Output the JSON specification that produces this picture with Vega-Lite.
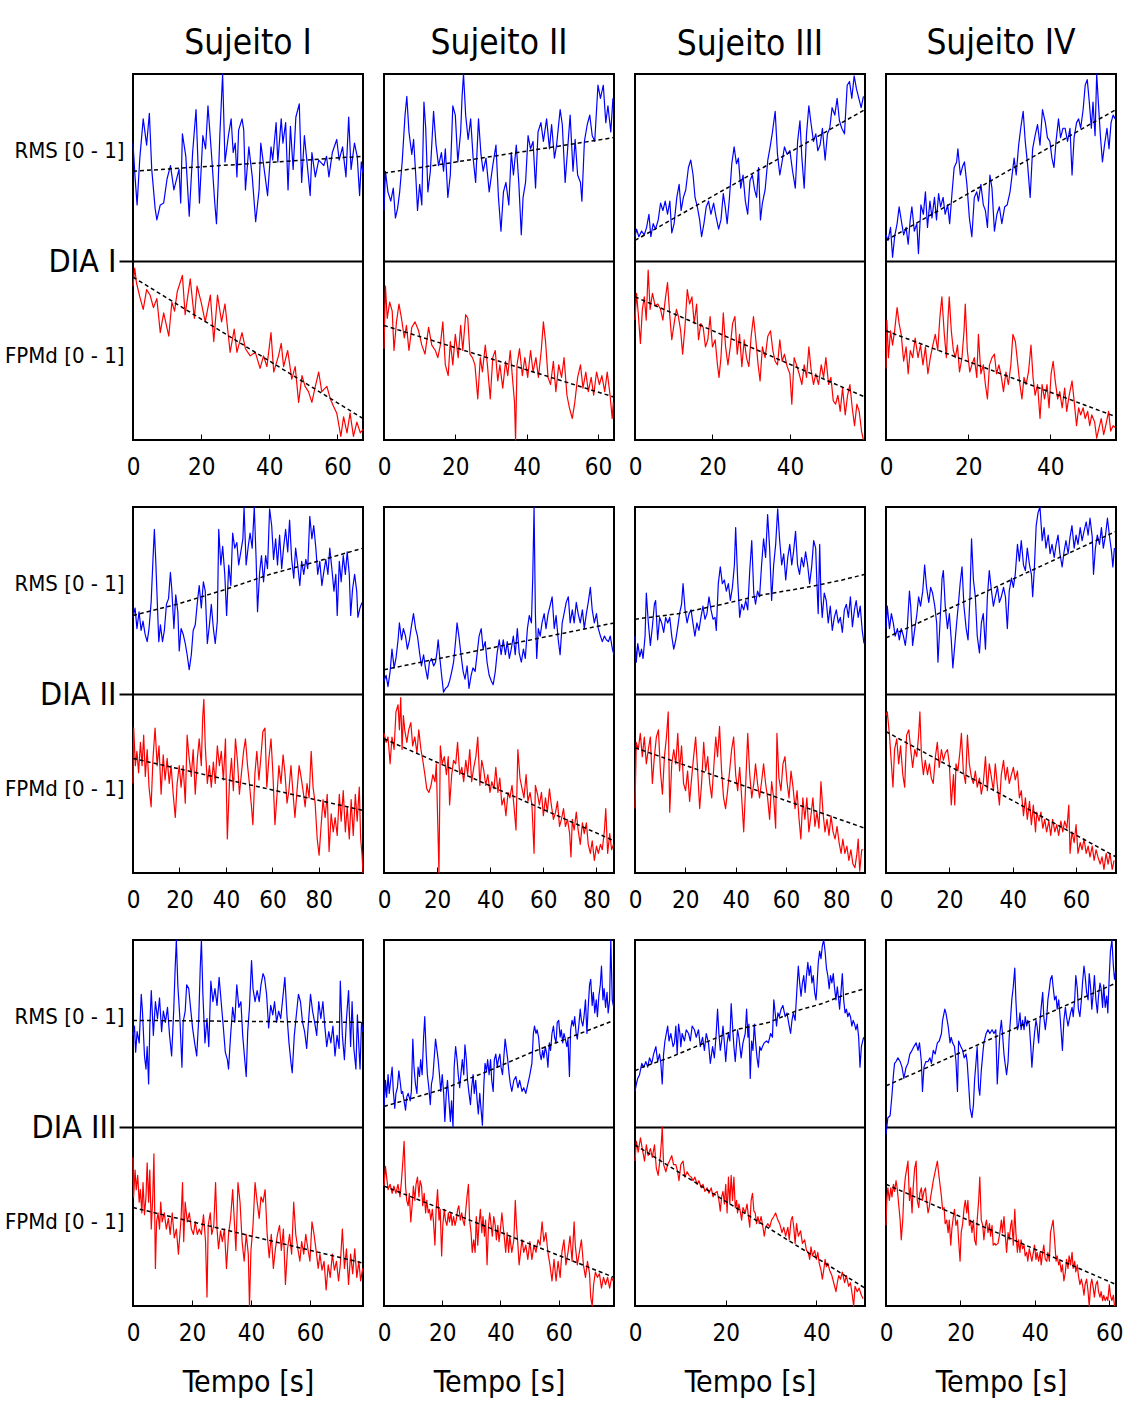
{
  "$schema": "https://vega.github.io/schema/vega-lite/v6.json",
  "background": "#ffffff",
  "padding": {"left": 3, "top": 25, "right": 2, "bottom": 6},
  "config": {
    "font": "Liberation Sans Narrow, DejaVu Sans Condensed, Liberation Sans, sans-serif",
    "view": {"stroke": "#000000", "strokeWidth": 2},
    "axis": {"labelColor": "#000000", "titleColor": "#000000", "titleFontWeight": "normal", "labelFont": "Liberation Sans Narrow, DejaVu Sans Condensed, Liberation Sans, sans-serif", "titleFont": "Liberation Sans Narrow, DejaVu Sans Condensed, Liberation Sans, sans-serif"},
    "axisX": {"grid": false, "domain": false, "tickColor": "#000000", "tickSize": -6, "tickWidth": 1, "labelFontSize": 24, "labelPadding": 21, "labelFlush": false, "labelOverlap": false, "titleFontSize": 30, "titlePadding": 22},
    "axisY": {"domain": false, "title": null},
    "title": {"fontSize": 35, "fontWeight": "normal", "color": "#000000", "anchor": "middle", "offset": 12, "font": "Liberation Sans Narrow, DejaVu Sans Condensed, Liberation Sans, sans-serif"},
    "line": {"strokeWidth": 1.2, "strokeJoin": "round"}
  },
  "datasets": {
    "r11": [{"t":0,"v":0.63},{"t":0.6,"v":0.45},{"t":1.2,"v":0.30},{"t":2,"v":0.55},{"t":3,"v":0.76},{"t":4,"v":0.62},{"t":4.8,"v":0.79},{"t":5.5,"v":0.49},{"t":6.5,"v":0.28},{"t":7,"v":0.22},{"t":8,"v":0.30},{"t":9,"v":0.31},{"t":10,"v":0.44},{"t":11,"v":0.51},{"t":12,"v":0.38},{"t":13.5,"v":0.49},{"t":14,"v":0.31},{"t":14.5,"v":0.68},{"t":15.5,"v":0.56},{"t":16.5,"v":0.24},{"t":17.5,"v":0.58},{"t":18.5,"v":0.81},{"t":19.5,"v":0.31},{"t":20.5,"v":0.67},{"t":21.3,"v":0.60},{"t":22,"v":0.83},{"t":23,"v":0.58},{"t":24,"v":0.31},{"t":24.5,"v":0.20},{"t":25,"v":0.42},{"t":25.5,"v":0.68},{"t":26,"v":0.88},{"t":26.3,"v":1.0},{"t":27,"v":0.53},{"t":28,"v":0.67},{"t":28.8,"v":0.76},{"t":29.4,"v":0.58},{"t":30,"v":0.63},{"t":30.5,"v":0.45},{"t":31,"v":0.70},{"t":32,"v":0.76},{"t":32.5,"v":0.70},{"t":33,"v":0.38},{"t":34,"v":0.61},{"t":35,"v":0.45},{"t":36,"v":0.21},{"t":37,"v":0.38},{"t":37.5,"v":0.63},{"t":38.5,"v":0.49},{"t":39.5,"v":0.35},{"t":40.5,"v":0.61},{"t":41,"v":0.54},{"t":42,"v":0.74},{"t":42.5,"v":0.53},{"t":43.5,"v":0.76},{"t":44,"v":0.63},{"t":44.8,"v":0.74},{"t":45.5,"v":0.38},{"t":46.2,"v":0.72},{"t":47,"v":0.49},{"t":47.8,"v":0.77},{"t":48.8,"v":0.84},{"t":49.5,"v":0.42},{"t":50.3,"v":0.67},{"t":51,"v":0.54},{"t":52,"v":0.35},{"t":52.5,"v":0.58},{"t":53.5,"v":0.45},{"t":54.5,"v":0.54},{"t":55,"v":0.53},{"t":56,"v":0.51},{"t":56.8,"v":0.56},{"t":57.5,"v":0.45},{"t":58.5,"v":0.58},{"t":59.8,"v":0.65},{"t":60.5,"v":0.54},{"t":61.5,"v":0.61},{"t":62.5,"v":0.45},{"t":63.3,"v":0.77},{"t":64,"v":0.49},{"t":65,"v":0.63},{"t":65.8,"v":0.56},{"t":66.5,"v":0.35},{"t":67,"v":0.53},{"t":67.5,"v":0.47}],
    "tr11": [{"t":0,"v":0.48},{"t":67.5,"v":0.56}],
    "f11": [{"t":0,"v":0.86},{"t":0.5,"v":0.96},{"t":1,"v":0.88},{"t":2,"v":0.80},{"t":3,"v":0.73},{"t":4,"v":0.84},{"t":5,"v":0.81},{"t":6,"v":0.74},{"t":7,"v":0.79},{"t":8,"v":0.60},{"t":9,"v":0.71},{"t":10.5,"v":0.58},{"t":11.4,"v":0.77},{"t":12.2,"v":0.72},{"t":13,"v":0.83},{"t":14.5,"v":0.92},{"t":15.3,"v":0.70},{"t":16.8,"v":0.90},{"t":18,"v":0.68},{"t":18.8,"v":0.86},{"t":20,"v":0.77},{"t":21.2,"v":0.66},{"t":22.7,"v":0.81},{"t":23.7,"v":0.55},{"t":24.8,"v":0.81},{"t":26,"v":0.66},{"t":27,"v":0.76},{"t":28.5,"v":0.49},{"t":29.7,"v":0.62},{"t":30.5,"v":0.49},{"t":32,"v":0.60},{"t":33,"v":0.51},{"t":34.4,"v":0.47},{"t":35.9,"v":0.49},{"t":37.3,"v":0.40},{"t":38.3,"v":0.47},{"t":39.3,"v":0.41},{"t":40.5,"v":0.60},{"t":41.3,"v":0.38},{"t":42.7,"v":0.47},{"t":43.5,"v":0.54},{"t":44.2,"v":0.41},{"t":45.4,"v":0.50},{"t":46.6,"v":0.34},{"t":47.6,"v":0.41},{"t":48.6,"v":0.21},{"t":49.6,"v":0.36},{"t":50.5,"v":0.30},{"t":51.5,"v":0.27},{"t":52.5,"v":0.21},{"t":53.5,"v":0.30},{"t":54.5,"v":0.38},{"t":55.4,"v":0.27},{"t":56.9,"v":0.30},{"t":57.9,"v":0.23},{"t":58.8,"v":0.19},{"t":59.8,"v":0.15},{"t":61,"v":0.02},{"t":61.8,"v":0.13},{"t":62.8,"v":0.04},{"t":63.7,"v":0.15},{"t":64.7,"v":0.02},{"t":65.7,"v":0.10},{"t":66.7,"v":0.04},{"t":67.5,"v":0.06}],
    "tf11": [{"t":0,"v":0.91},{"t":67.5,"v":0.12}],
    "r12": [{"t":0,"v":0.27},{"t":0.4,"v":0.48},{"t":1.1,"v":0.37},{"t":1.9,"v":0.32},{"t":2.6,"v":0.39},{"t":3.2,"v":0.23},{"t":3.8,"v":0.28},{"t":4.4,"v":0.37},{"t":5.1,"v":0.53},{"t":5.9,"v":0.78},{"t":6.4,"v":0.88},{"t":7,"v":0.69},{"t":7.8,"v":0.57},{"t":8.3,"v":0.65},{"t":8.9,"v":0.46},{"t":9.4,"v":0.27},{"t":10,"v":0.41},{"t":10.6,"v":0.30},{"t":11.2,"v":0.85},{"t":11.7,"v":0.71},{"t":12.3,"v":0.37},{"t":13,"v":0.48},{"t":13.9,"v":0.80},{"t":14.6,"v":0.62},{"t":15.3,"v":0.51},{"t":16.1,"v":0.58},{"t":16.7,"v":0.48},{"t":17.2,"v":0.60},{"t":17.9,"v":0.34},{"t":18.6,"v":0.46},{"t":19.3,"v":0.83},{"t":20,"v":0.78},{"t":20.7,"v":0.53},{"t":21.5,"v":0.69},{"t":21.9,"v":0.88},{"t":22.3,"v":1.0},{"t":22.9,"v":0.78},{"t":23.6,"v":0.65},{"t":24.3,"v":0.76},{"t":25,"v":0.55},{"t":25.7,"v":0.42},{"t":26.5,"v":0.76},{"t":27.2,"v":0.57},{"t":27.8,"v":0.48},{"t":28.6,"v":0.55},{"t":29.5,"v":0.37},{"t":30.5,"v":0.51},{"t":31.4,"v":0.62},{"t":32.1,"v":0.34},{"t":32.8,"v":0.16},{"t":33.5,"v":0.37},{"t":34.2,"v":0.42},{"t":35,"v":0.30},{"t":35.7,"v":0.58},{"t":36.3,"v":0.46},{"t":37.1,"v":0.62},{"t":37.8,"v":0.42},{"t":38.5,"v":0.14},{"t":39,"v":0.34},{"t":39.7,"v":0.42},{"t":40.4,"v":0.67},{"t":41.1,"v":0.60},{"t":41.8,"v":0.64},{"t":42.5,"v":0.39},{"t":43.2,"v":0.69},{"t":44,"v":0.74},{"t":44.7,"v":0.64},{"t":45.6,"v":0.76},{"t":46.4,"v":0.60},{"t":47,"v":0.73},{"t":47.8,"v":0.55},{"t":48.4,"v":0.62},{"t":49.4,"v":0.81},{"t":50,"v":0.73},{"t":50.8,"v":0.42},{"t":51.5,"v":0.60},{"t":52.2,"v":0.78},{"t":53,"v":0.48},{"t":53.6,"v":0.65},{"t":54.3,"v":0.46},{"t":55.1,"v":0.42},{"t":55.5,"v":0.32},{"t":56.2,"v":0.64},{"t":57,"v":0.73},{"t":57.7,"v":0.78},{"t":58.4,"v":0.67},{"t":59.1,"v":0.64},{"t":60,"v":0.94},{"t":60.7,"v":0.87},{"t":61.5,"v":0.94},{"t":62.2,"v":0.74},{"t":62.8,"v":0.83},{"t":63.6,"v":0.69},{"t":64.2,"v":0.87}],
    "tr12": [{"t":0,"v":0.47},{"t":64.5,"v":0.66}],
    "f12": [{"t":0,"v":0.51},{"t":0.4,"v":0.86},{"t":0.9,"v":0.68},{"t":1.6,"v":0.77},{"t":2.3,"v":0.72},{"t":2.8,"v":0.50},{"t":3.5,"v":0.66},{"t":4.2,"v":0.76},{"t":4.9,"v":0.68},{"t":5.7,"v":0.57},{"t":6.3,"v":0.64},{"t":7,"v":0.50},{"t":7.8,"v":0.63},{"t":8.7,"v":0.66},{"t":9.7,"v":0.61},{"t":10.6,"v":0.53},{"t":11.5,"v":0.48},{"t":12.5,"v":0.63},{"t":13.4,"v":0.53},{"t":14.4,"v":0.50},{"t":15.1,"v":0.46},{"t":15.8,"v":0.53},{"t":16.5,"v":0.66},{"t":17.2,"v":0.42},{"t":18,"v":0.36},{"t":18.6,"v":0.55},{"t":19.3,"v":0.42},{"t":20,"v":0.59},{"t":20.8,"v":0.46},{"t":21.5,"v":0.64},{"t":22.1,"v":0.50},{"t":22.9,"v":0.70},{"t":23.5,"v":0.68},{"t":24.1,"v":0.48},{"t":24.8,"v":0.46},{"t":25.5,"v":0.42},{"t":26.3,"v":0.23},{"t":27,"v":0.46},{"t":27.6,"v":0.38},{"t":28.4,"v":0.53},{"t":29,"v":0.42},{"t":29.8,"v":0.23},{"t":30.5,"v":0.46},{"t":31.2,"v":0.50},{"t":31.9,"v":0.33},{"t":32.5,"v":0.42},{"t":33.3,"v":0.29},{"t":34.1,"v":0.44},{"t":34.7,"v":0.36},{"t":35.4,"v":0.50},{"t":36.1,"v":0.33},{"t":36.6,"v":0.21},{"t":36.9,"v":0.0},{"t":37.3,"v":0.42},{"t":38,"v":0.51},{"t":38.8,"v":0.36},{"t":39.5,"v":0.46},{"t":40.3,"v":0.35},{"t":41.1,"v":0.50},{"t":41.8,"v":0.38},{"t":42.6,"v":0.46},{"t":43.3,"v":0.35},{"t":44.1,"v":0.50},{"t":44.7,"v":0.66},{"t":45.3,"v":0.55},{"t":46,"v":0.35},{"t":46.7,"v":0.31},{"t":47.5,"v":0.44},{"t":48.2,"v":0.27},{"t":49,"v":0.42},{"t":49.8,"v":0.35},{"t":50.5,"v":0.46},{"t":51.3,"v":0.25},{"t":52,"v":0.18},{"t":52.8,"v":0.12},{"t":53.5,"v":0.21},{"t":54.3,"v":0.35},{"t":55.1,"v":0.42},{"t":55.8,"v":0.29},{"t":56.6,"v":0.38},{"t":57.3,"v":0.27},{"t":58.1,"v":0.35},{"t":58.8,"v":0.25},{"t":59.6,"v":0.38},{"t":60.4,"v":0.31},{"t":61.1,"v":0.36},{"t":61.9,"v":0.27},{"t":62.6,"v":0.38},{"t":63.4,"v":0.25},{"t":64,"v":0.12},{"t":64.3,"v":0.21}],
    "tf12": [{"t":0,"v":0.64},{"t":64.5,"v":0.24}],
    "r13": [{"t":0,"v":0.13},{"t":0.4,"v":0.17},{"t":1,"v":0.13},{"t":1.7,"v":0.16},{"t":2.4,"v":0.14},{"t":3,"v":0.18},{"t":3.6,"v":0.25},{"t":4.1,"v":0.13},{"t":4.7,"v":0.20},{"t":5.3,"v":0.17},{"t":6,"v":0.22},{"t":6.6,"v":0.31},{"t":7.2,"v":0.27},{"t":7.8,"v":0.32},{"t":8.4,"v":0.25},{"t":9,"v":0.32},{"t":9.5,"v":0.15},{"t":10.1,"v":0.20},{"t":10.8,"v":0.34},{"t":11.4,"v":0.41},{"t":11.9,"v":0.27},{"t":12.5,"v":0.34},{"t":13.1,"v":0.38},{"t":13.8,"v":0.50},{"t":14.4,"v":0.54},{"t":15,"v":0.46},{"t":15.5,"v":0.34},{"t":16.1,"v":0.29},{"t":16.7,"v":0.22},{"t":17.2,"v":0.13},{"t":17.8,"v":0.20},{"t":18.4,"v":0.29},{"t":19,"v":0.32},{"t":19.6,"v":0.25},{"t":20.3,"v":0.31},{"t":20.9,"v":0.24},{"t":21.6,"v":0.17},{"t":22.2,"v":0.22},{"t":22.8,"v":0.36},{"t":23.3,"v":0.29},{"t":23.8,"v":0.20},{"t":24.4,"v":0.34},{"t":25,"v":0.52},{"t":25.6,"v":0.61},{"t":26.2,"v":0.52},{"t":26.7,"v":0.55},{"t":27.3,"v":0.39},{"t":27.9,"v":0.46},{"t":28.5,"v":0.32},{"t":29.1,"v":0.25},{"t":29.7,"v":0.43},{"t":30.3,"v":0.46},{"t":30.9,"v":0.38},{"t":31.4,"v":0.34},{"t":31.9,"v":0.50},{"t":32.4,"v":0.22},{"t":32.9,"v":0.31},{"t":33.6,"v":0.38},{"t":34.3,"v":0.54},{"t":34.9,"v":0.61},{"t":35.5,"v":0.69},{"t":36.2,"v":0.80},{"t":36.8,"v":0.57},{"t":37.4,"v":0.46},{"t":37.9,"v":0.52},{"t":38.6,"v":0.61},{"t":39.3,"v":0.57},{"t":40,"v":0.59},{"t":40.7,"v":0.48},{"t":41.4,"v":0.39},{"t":42,"v":0.64},{"t":42.6,"v":0.75},{"t":43.1,"v":0.55},{"t":43.7,"v":0.39},{"t":44.3,"v":0.68},{"t":44.9,"v":0.83},{"t":45.5,"v":0.73},{"t":46.1,"v":0.64},{"t":46.7,"v":0.68},{"t":47.2,"v":0.59},{"t":47.8,"v":0.62},{"t":48.4,"v":0.71},{"t":49.1,"v":0.54},{"t":49.7,"v":0.68},{"t":50.3,"v":0.71},{"t":50.9,"v":0.82},{"t":51.6,"v":0.78},{"t":52.2,"v":0.87},{"t":52.8,"v":0.75},{"t":53.4,"v":0.71},{"t":54.1,"v":0.68},{"t":54.8,"v":0.94},{"t":55.4,"v":0.96},{"t":56,"v":0.87},{"t":56.6,"v":0.99},{"t":57.2,"v":0.92},{"t":57.8,"v":0.87},{"t":58.4,"v":0.82},{"t":59,"v":0.88}],
    "tr13": [{"t":0,"v":0.11},{"t":59.4,"v":0.81}],
    "f13": [{"t":0,"v":0.67},{"t":0.4,"v":0.82},{"t":0.9,"v":0.69},{"t":1.4,"v":0.54},{"t":1.9,"v":0.73},{"t":2.4,"v":0.80},{"t":2.9,"v":0.67},{"t":3.4,"v":0.95},{"t":3.9,"v":0.73},{"t":4.5,"v":0.82},{"t":5.2,"v":0.75},{"t":5.9,"v":0.76},{"t":6.6,"v":0.73},{"t":7.2,"v":0.67},{"t":7.9,"v":0.80},{"t":8.4,"v":0.88},{"t":9,"v":0.69},{"t":9.5,"v":0.56},{"t":10.1,"v":0.65},{"t":10.7,"v":0.73},{"t":11.2,"v":0.69},{"t":11.8,"v":0.61},{"t":12.3,"v":0.48},{"t":12.9,"v":0.63},{"t":13.5,"v":0.84},{"t":14.1,"v":0.76},{"t":14.7,"v":0.80},{"t":15.3,"v":0.65},{"t":15.9,"v":0.76},{"t":16.4,"v":0.56},{"t":17,"v":0.65},{"t":17.6,"v":0.63},{"t":18.2,"v":0.52},{"t":18.8,"v":0.56},{"t":19.4,"v":0.69},{"t":20,"v":0.52},{"t":20.7,"v":0.56},{"t":21.3,"v":0.42},{"t":21.7,"v":0.35},{"t":22.2,"v":0.46},{"t":22.8,"v":0.71},{"t":23.4,"v":0.52},{"t":24,"v":0.42},{"t":24.6,"v":0.52},{"t":25.2,"v":0.65},{"t":25.8,"v":0.69},{"t":26.4,"v":0.48},{"t":27,"v":0.59},{"t":27.6,"v":0.41},{"t":28.2,"v":0.56},{"t":28.8,"v":0.46},{"t":29.4,"v":0.41},{"t":30,"v":0.58},{"t":30.6,"v":0.69},{"t":31.2,"v":0.56},{"t":31.8,"v":0.42},{"t":32.3,"v":0.33},{"t":32.9,"v":0.52},{"t":33.6,"v":0.46},{"t":34.3,"v":0.58},{"t":35,"v":0.61},{"t":35.6,"v":0.50},{"t":36.2,"v":0.44},{"t":36.8,"v":0.42},{"t":37.4,"v":0.56},{"t":38,"v":0.44},{"t":38.6,"v":0.48},{"t":39.3,"v":0.41},{"t":40,"v":0.37},{"t":40.5,"v":0.20},{"t":41.1,"v":0.46},{"t":41.7,"v":0.42},{"t":42.4,"v":0.37},{"t":43.1,"v":0.31},{"t":43.7,"v":0.42},{"t":44.3,"v":0.35},{"t":44.9,"v":0.52},{"t":45.5,"v":0.39},{"t":46.1,"v":0.31},{"t":46.7,"v":0.37},{"t":47.4,"v":0.31},{"t":48.1,"v":0.42},{"t":48.7,"v":0.35},{"t":49.3,"v":0.46},{"t":50,"v":0.31},{"t":50.6,"v":0.35},{"t":51.2,"v":0.22},{"t":51.8,"v":0.20},{"t":52.4,"v":0.25},{"t":53,"v":0.16},{"t":53.6,"v":0.29},{"t":54.3,"v":0.14},{"t":54.9,"v":0.25},{"t":55.5,"v":0.31},{"t":56.1,"v":0.18},{"t":56.7,"v":0.08},{"t":57.3,"v":0.20},{"t":57.9,"v":0.16},{"t":58.5,"v":0.05},{"t":59,"v":0.0}],
    "tf13": [{"t":0,"v":0.80},{"t":59.4,"v":0.24}],
    "r14": [{"t":0,"v":0.14},{"t":0.5,"v":0.11},{"t":1.1,"v":0.18},{"t":1.6,"v":0.02},{"t":2.1,"v":0.13},{"t":2.7,"v":0.20},{"t":3.2,"v":0.29},{"t":3.7,"v":0.22},{"t":4.3,"v":0.14},{"t":4.9,"v":0.18},{"t":5.4,"v":0.09},{"t":5.9,"v":0.22},{"t":6.3,"v":0.29},{"t":6.9,"v":0.16},{"t":7.5,"v":0.20},{"t":7.9,"v":0.04},{"t":8.5,"v":0.30},{"t":9.1,"v":0.25},{"t":9.6,"v":0.37},{"t":10.1,"v":0.18},{"t":10.7,"v":0.32},{"t":11.2,"v":0.23},{"t":11.8,"v":0.34},{"t":12.3,"v":0.22},{"t":12.8,"v":0.36},{"t":13.3,"v":0.29},{"t":13.9,"v":0.34},{"t":14.4,"v":0.25},{"t":15,"v":0.30},{"t":15.5,"v":0.20},{"t":16.1,"v":0.37},{"t":16.6,"v":0.50},{"t":17.2,"v":0.53},{"t":17.5,"v":0.60},{"t":18.1,"v":0.46},{"t":18.7,"v":0.51},{"t":19.1,"v":0.53},{"t":19.7,"v":0.41},{"t":20.3,"v":0.23},{"t":20.9,"v":0.13},{"t":21.5,"v":0.34},{"t":22.1,"v":0.37},{"t":22.5,"v":0.32},{"t":23.1,"v":0.41},{"t":23.7,"v":0.30},{"t":24.2,"v":0.27},{"t":24.7,"v":0.18},{"t":25.3,"v":0.46},{"t":25.8,"v":0.39},{"t":26.4,"v":0.16},{"t":27,"v":0.25},{"t":27.6,"v":0.29},{"t":28.2,"v":0.20},{"t":28.9,"v":0.29},{"t":29.5,"v":0.30},{"t":30.2,"v":0.37},{"t":30.7,"v":0.46},{"t":31.2,"v":0.55},{"t":31.7,"v":0.46},{"t":32.3,"v":0.62},{"t":32.8,"v":0.71},{"t":33.4,"v":0.80},{"t":33.9,"v":0.64},{"t":34.5,"v":0.51},{"t":35.1,"v":0.34},{"t":35.7,"v":0.60},{"t":36.3,"v":0.67},{"t":36.9,"v":0.73},{"t":37.5,"v":0.62},{"t":38.1,"v":0.81},{"t":38.8,"v":0.74},{"t":39.3,"v":0.66},{"t":39.9,"v":0.64},{"t":40.4,"v":0.55},{"t":40.9,"v":0.50},{"t":41.4,"v":0.64},{"t":42,"v":0.76},{"t":42.5,"v":0.66},{"t":43.1,"v":0.71},{"t":43.6,"v":0.71},{"t":44.2,"v":0.64},{"t":44.8,"v":0.71},{"t":45.3,"v":0.46},{"t":45.8,"v":0.66},{"t":46.4,"v":0.74},{"t":46.9,"v":0.76},{"t":47.4,"v":0.71},{"t":48,"v":0.81},{"t":48.5,"v":0.94},{"t":49,"v":0.97},{"t":49.5,"v":0.85},{"t":50,"v":0.71},{"t":50.4,"v":0.85},{"t":50.9,"v":0.67},{"t":51.3,"v":1.0},{"t":51.7,"v":0.85},{"t":52.2,"v":0.67},{"t":52.7,"v":0.53},{"t":53.2,"v":0.62},{"t":53.8,"v":0.71},{"t":54.3,"v":0.60},{"t":54.8,"v":0.74},{"t":55.3,"v":0.78},{"t":55.8,"v":0.76}],
    "tr14": [{"t":0,"v":0.11},{"t":56,"v":0.81}],
    "f14": [{"t":0,"v":0.40},{"t":0.2,"v":0.67},{"t":0.6,"v":0.46},{"t":1.1,"v":0.61},{"t":1.6,"v":0.53},{"t":2.1,"v":0.61},{"t":2.7,"v":0.74},{"t":3.2,"v":0.65},{"t":3.7,"v":0.59},{"t":4.3,"v":0.44},{"t":4.9,"v":0.52},{"t":5.4,"v":0.37},{"t":5.9,"v":0.50},{"t":6.5,"v":0.46},{"t":7.1,"v":0.57},{"t":7.8,"v":0.46},{"t":8.4,"v":0.53},{"t":9,"v":0.42},{"t":9.6,"v":0.52},{"t":10.2,"v":0.37},{"t":10.8,"v":0.46},{"t":11.4,"v":0.53},{"t":12,"v":0.59},{"t":12.6,"v":0.50},{"t":13.1,"v":0.68},{"t":13.6,"v":0.80},{"t":14.2,"v":0.59},{"t":14.7,"v":0.46},{"t":15.1,"v":0.68},{"t":15.4,"v":0.80},{"t":15.9,"v":0.61},{"t":16.4,"v":0.50},{"t":16.9,"v":0.46},{"t":17.4,"v":0.53},{"t":17.9,"v":0.38},{"t":18.5,"v":0.46},{"t":19,"v":0.61},{"t":19.3,"v":0.76},{"t":19.8,"v":0.50},{"t":20.4,"v":0.38},{"t":20.9,"v":0.42},{"t":21.5,"v":0.46},{"t":22.1,"v":0.35},{"t":22.5,"v":0.59},{"t":23.1,"v":0.37},{"t":23.7,"v":0.42},{"t":24.2,"v":0.31},{"t":24.7,"v":0.23},{"t":25.2,"v":0.42},{"t":25.8,"v":0.46},{"t":26.4,"v":0.48},{"t":26.9,"v":0.37},{"t":27.5,"v":0.42},{"t":28.1,"v":0.35},{"t":28.6,"v":0.27},{"t":29.2,"v":0.38},{"t":29.8,"v":0.31},{"t":30.4,"v":0.42},{"t":30.9,"v":0.59},{"t":31.5,"v":0.55},{"t":32.1,"v":0.42},{"t":32.6,"v":0.31},{"t":33.1,"v":0.23},{"t":33.6,"v":0.35},{"t":34.1,"v":0.31},{"t":34.7,"v":0.38},{"t":35.3,"v":0.53},{"t":35.8,"v":0.35},{"t":36.3,"v":0.25},{"t":36.9,"v":0.31},{"t":37.5,"v":0.12},{"t":38,"v":0.31},{"t":38.6,"v":0.23},{"t":39.2,"v":0.31},{"t":39.7,"v":0.18},{"t":40.2,"v":0.37},{"t":40.7,"v":0.44},{"t":41.2,"v":0.33},{"t":41.8,"v":0.23},{"t":42.3,"v":0.27},{"t":42.9,"v":0.18},{"t":43.5,"v":0.29},{"t":44,"v":0.16},{"t":44.6,"v":0.25},{"t":45.3,"v":0.33},{"t":45.8,"v":0.22},{"t":46.4,"v":0.08},{"t":46.9,"v":0.18},{"t":47.4,"v":0.14},{"t":48,"v":0.18},{"t":48.5,"v":0.12},{"t":49.1,"v":0.16},{"t":49.6,"v":0.08},{"t":50.1,"v":0.14},{"t":50.8,"v":0.10},{"t":51.3,"v":0.01},{"t":51.9,"v":0.07},{"t":52.4,"v":0.12},{"t":53,"v":0.03},{"t":53.5,"v":0.08},{"t":54.2,"v":0.16},{"t":54.7,"v":0.05},{"t":55.3,"v":0.08},{"t":55.8,"v":0.07}],
    "tf14": [{"t":0,"v":0.61},{"t":56,"v":0.13}],
    "r21": [{"t":0,"v":0.41},{"t":0.9,"v":0.46},{"t":1.7,"v":0.35},{"t":2.6,"v":0.44},{"t":3.5,"v":0.34},{"t":4.3,"v":0.39},{"t":5.2,"v":0.32},{"t":6.1,"v":0.28},{"t":6.9,"v":0.35},{"t":7.8,"v":0.49},{"t":8.6,"v":0.72},{"t":9.2,"v":0.88},{"t":9.8,"v":0.71},{"t":10.4,"v":0.51},{"t":11.1,"v":0.28},{"t":11.8,"v":0.37},{"t":12.7,"v":0.28},{"t":13.5,"v":0.34},{"t":14.4,"v":0.48},{"t":15.3,"v":0.51},{"t":16.1,"v":0.65},{"t":16.7,"v":0.56},{"t":17.6,"v":0.35},{"t":18.4,"v":0.53},{"t":19.3,"v":0.44},{"t":19.9,"v":0.23},{"t":20.7,"v":0.35},{"t":21.6,"v":0.32},{"t":22.5,"v":0.27},{"t":23.3,"v":0.21},{"t":24.2,"v":0.13},{"t":25.1,"v":0.21},{"t":25.9,"v":0.34},{"t":26.8,"v":0.37},{"t":27.7,"v":0.49},{"t":28.5,"v":0.58},{"t":29.4,"v":0.46},{"t":30.3,"v":0.60},{"t":31.1,"v":0.55},{"t":32,"v":0.27},{"t":32.9,"v":0.37},{"t":33.7,"v":0.48},{"t":34.6,"v":0.35},{"t":35.4,"v":0.27},{"t":36.3,"v":0.39},{"t":36.9,"v":0.88},{"t":37.8,"v":0.69},{"t":38.6,"v":0.79},{"t":39.5,"v":0.64},{"t":40.3,"v":0.42},{"t":41.2,"v":0.69},{"t":42.1,"v":0.58},{"t":42.9,"v":0.86},{"t":43.8,"v":0.78},{"t":44.7,"v":0.81},{"t":45.5,"v":0.69},{"t":46.4,"v":0.76},{"t":47.3,"v":0.83},{"t":47.8,"v":1.0},{"t":48.7,"v":0.69},{"t":49.6,"v":0.79},{"t":50.4,"v":0.86},{"t":51.3,"v":0.78},{"t":52.2,"v":1.0},{"t":53,"v":0.72},{"t":53.6,"v":0.44},{"t":54.5,"v":0.65},{"t":55.3,"v":0.74},{"t":56.2,"v":0.60},{"t":57.1,"v":0.74},{"t":57.9,"v":0.67},{"t":58.8,"v":0.99},{"t":59.7,"v":0.90},{"t":60.5,"v":0.72},{"t":61.4,"v":0.83},{"t":62.2,"v":0.69},{"t":63.1,"v":0.85},{"t":64,"v":0.67},{"t":64.8,"v":0.78},{"t":65.7,"v":0.88},{"t":66.6,"v":0.76},{"t":67.4,"v":0.93},{"t":68.3,"v":0.72},{"t":69.2,"v":0.62},{"t":70,"v":0.78},{"t":70.9,"v":0.69},{"t":71.8,"v":0.58},{"t":72.6,"v":0.71},{"t":73.5,"v":0.64},{"t":74.4,"v":0.72},{"t":75.2,"v":0.67},{"t":76.1,"v":0.95},{"t":77,"v":0.83},{"t":77.8,"v":0.90},{"t":78.7,"v":0.78},{"t":79.5,"v":0.64},{"t":80.4,"v":0.71},{"t":81.3,"v":0.58},{"t":82.1,"v":0.65},{"t":83,"v":0.72},{"t":83.9,"v":0.64},{"t":84.7,"v":0.78},{"t":85.6,"v":0.67},{"t":86.5,"v":0.55},{"t":87.3,"v":0.64},{"t":87.9,"v":0.42},{"t":88.8,"v":0.71},{"t":89.6,"v":0.60},{"t":90.5,"v":0.74},{"t":91.4,"v":0.64},{"t":92.2,"v":0.76},{"t":93.1,"v":0.64},{"t":93.7,"v":0.42},{"t":94.5,"v":0.56},{"t":95.4,"v":0.64},{"t":96.3,"v":0.55},{"t":96.8,"v":0.41},{"t":97.7,"v":0.46},{"t":98.6,"v":0.49}],
    "tr21": [{"t":0,"v":0.42},{"t":19,"v":0.48},{"t":40,"v":0.56},{"t":59,"v":0.64},{"t":79.5,"v":0.71},{"t":99,"v":0.78}],
    "f21": [{"t":0,"v":0.50},{"t":0.3,"v":0.81},{"t":1,"v":0.60},{"t":1.7,"v":0.68},{"t":2.4,"v":0.56},{"t":3.2,"v":0.73},{"t":3.9,"v":0.60},{"t":4.6,"v":0.77},{"t":5.3,"v":0.54},{"t":6.1,"v":0.69},{"t":6.9,"v":0.48},{"t":7.8,"v":0.37},{"t":8.6,"v":0.64},{"t":9.5,"v":0.81},{"t":10.4,"v":0.60},{"t":11.2,"v":0.71},{"t":12.1,"v":0.44},{"t":13,"v":0.66},{"t":13.8,"v":0.52},{"t":14.7,"v":0.64},{"t":15.6,"v":0.50},{"t":16.4,"v":0.60},{"t":17.3,"v":0.44},{"t":18.2,"v":0.31},{"t":19,"v":0.50},{"t":19.9,"v":0.60},{"t":20.7,"v":0.48},{"t":21.6,"v":0.60},{"t":22.5,"v":0.39},{"t":23.3,"v":0.77},{"t":24.2,"v":0.64},{"t":25.1,"v":0.54},{"t":25.9,"v":0.69},{"t":26.8,"v":0.44},{"t":27.7,"v":0.64},{"t":28.5,"v":0.75},{"t":29.4,"v":0.60},{"t":30,"v":0.87},{"t":30.5,"v":0.97},{"t":31.1,"v":0.71},{"t":32,"v":0.50},{"t":32.9,"v":0.60},{"t":33.7,"v":0.48},{"t":34.6,"v":0.62},{"t":35.4,"v":0.50},{"t":36.3,"v":0.71},{"t":37.2,"v":0.60},{"t":38,"v":0.68},{"t":38.9,"v":0.52},{"t":39.8,"v":0.75},{"t":40.6,"v":0.19},{"t":41.5,"v":0.50},{"t":42.4,"v":0.64},{"t":43.2,"v":0.46},{"t":44.1,"v":0.75},{"t":45,"v":0.62},{"t":45.8,"v":0.44},{"t":46.7,"v":0.56},{"t":47.6,"v":0.68},{"t":48.4,"v":0.75},{"t":49.3,"v":0.60},{"t":50.1,"v":0.50},{"t":51,"v":0.37},{"t":51.6,"v":0.27},{"t":52.5,"v":0.56},{"t":53.3,"v":0.68},{"t":54.2,"v":0.52},{"t":55,"v":0.64},{"t":55.9,"v":0.79},{"t":56.8,"v":0.81},{"t":57.6,"v":0.48},{"t":58.5,"v":0.64},{"t":59.4,"v":0.75},{"t":60.2,"v":0.56},{"t":61.1,"v":0.27},{"t":62,"v":0.44},{"t":62.8,"v":0.60},{"t":63.7,"v":0.50},{"t":64.6,"v":0.66},{"t":65.4,"v":0.56},{"t":66.3,"v":0.39},{"t":67.1,"v":0.46},{"t":68,"v":0.60},{"t":68.9,"v":0.44},{"t":69.7,"v":0.31},{"t":70.6,"v":0.46},{"t":71.5,"v":0.60},{"t":72.3,"v":0.54},{"t":73.2,"v":0.46},{"t":74.1,"v":0.37},{"t":74.9,"v":0.50},{"t":75.8,"v":0.42},{"t":76.7,"v":0.68},{"t":77.5,"v":0.48},{"t":78.4,"v":0.39},{"t":79.3,"v":0.19},{"t":80.1,"v":0.10},{"t":81,"v":0.27},{"t":81.8,"v":0.41},{"t":82.7,"v":0.31},{"t":83.6,"v":0.44},{"t":84.4,"v":0.12},{"t":85.3,"v":0.33},{"t":86.2,"v":0.23},{"t":87,"v":0.31},{"t":87.9,"v":0.21},{"t":88.8,"v":0.44},{"t":89.6,"v":0.29},{"t":90.5,"v":0.46},{"t":91.4,"v":0.23},{"t":92.2,"v":0.37},{"t":93.1,"v":0.19},{"t":93.9,"v":0.41},{"t":94.8,"v":0.21},{"t":95.7,"v":0.44},{"t":96.5,"v":0.29},{"t":97.4,"v":0.48},{"t":98,"v":0.19},{"t":98.6,"v":0.10},{"t":99,"v":0.0}],
    "tf21": [{"t":0,"v":0.64},{"t":99,"v":0.35}],
    "r22": [{"t":0,"v":0.07},{"t":0.8,"v":0.10},{"t":1.5,"v":0.04},{"t":2.3,"v":0.12},{"t":3,"v":0.24},{"t":3.8,"v":0.14},{"t":4.5,"v":0.19},{"t":5.3,"v":0.29},{"t":5.8,"v":0.38},{"t":6.6,"v":0.29},{"t":7.3,"v":0.35},{"t":8.1,"v":0.31},{"t":8.8,"v":0.24},{"t":9.6,"v":0.29},{"t":10.3,"v":0.36},{"t":11.1,"v":0.43},{"t":11.9,"v":0.35},{"t":12.6,"v":0.31},{"t":13.4,"v":0.22},{"t":14.1,"v":0.15},{"t":14.9,"v":0.21},{"t":15.6,"v":0.14},{"t":16.4,"v":0.08},{"t":17.1,"v":0.17},{"t":17.9,"v":0.19},{"t":18.7,"v":0.15},{"t":19.4,"v":0.17},{"t":19.9,"v":0.22},{"t":20.4,"v":0.29},{"t":20.9,"v":0.21},{"t":21.7,"v":0.10},{"t":22.4,"v":0.01},{"t":23.2,"v":0.03},{"t":24,"v":0.04},{"t":24.7,"v":0.07},{"t":25.5,"v":0.12},{"t":26.2,"v":0.17},{"t":27,"v":0.29},{"t":27.5,"v":0.38},{"t":28.2,"v":0.31},{"t":29,"v":0.21},{"t":29.8,"v":0.12},{"t":30.5,"v":0.08},{"t":31.3,"v":0.15},{"t":32,"v":0.03},{"t":32.8,"v":0.10},{"t":33.5,"v":0.14},{"t":34.3,"v":0.12},{"t":35.1,"v":0.22},{"t":35.8,"v":0.31},{"t":36.6,"v":0.35},{"t":37.3,"v":0.24},{"t":38.1,"v":0.28},{"t":38.8,"v":0.17},{"t":39.6,"v":0.10},{"t":40.4,"v":0.07},{"t":41.1,"v":0.05},{"t":41.9,"v":0.12},{"t":42.6,"v":0.22},{"t":43.4,"v":0.29},{"t":44.1,"v":0.21},{"t":44.9,"v":0.29},{"t":45.7,"v":0.21},{"t":46.4,"v":0.28},{"t":47.2,"v":0.19},{"t":47.9,"v":0.24},{"t":48.7,"v":0.31},{"t":49.4,"v":0.21},{"t":50.2,"v":0.35},{"t":50.9,"v":0.22},{"t":51.7,"v":0.17},{"t":52.5,"v":0.24},{"t":53.2,"v":0.19},{"t":54,"v":0.35},{"t":54.7,"v":0.42},{"t":55.5,"v":0.38},{"t":56,"v":0.62},{"t":56.5,"v":1.0},{"t":57,"v":0.43},{"t":57.5,"v":0.19},{"t":58.1,"v":0.35},{"t":58.8,"v":0.31},{"t":59.5,"v":0.38},{"t":60.3,"v":0.43},{"t":61,"v":0.35},{"t":61.8,"v":0.43},{"t":62.5,"v":0.47},{"t":63.3,"v":0.52},{"t":64.1,"v":0.35},{"t":64.8,"v":0.42},{"t":65.6,"v":0.29},{"t":66.3,"v":0.21},{"t":67.1,"v":0.38},{"t":67.8,"v":0.43},{"t":68.6,"v":0.49},{"t":69.4,"v":0.52},{"t":70.1,"v":0.38},{"t":70.9,"v":0.45},{"t":71.6,"v":0.38},{"t":72.4,"v":0.49},{"t":73.1,"v":0.43},{"t":73.9,"v":0.38},{"t":74.7,"v":0.45},{"t":75.4,"v":0.35},{"t":76.2,"v":0.43},{"t":76.9,"v":0.49},{"t":77.7,"v":0.57},{"t":78.4,"v":0.45},{"t":79.2,"v":0.38},{"t":80,"v":0.43},{"t":80.7,"v":0.35},{"t":81.5,"v":0.31},{"t":82.2,"v":0.28},{"t":83,"v":0.31},{"t":83.7,"v":0.29},{"t":84.5,"v":0.28},{"t":85.2,"v":0.31},{"t":86,"v":0.24},{"t":86.6,"v":0.21}],
    "tr22": [{"t":0,"v":0.13},{"t":86.6,"v":0.38}],
    "f22": [{"t":0,"v":0.78},{"t":0.8,"v":0.73},{"t":1.5,"v":0.76},{"t":2.3,"v":0.61},{"t":3,"v":0.76},{"t":3.8,"v":0.69},{"t":4.5,"v":0.90},{"t":5.3,"v":0.94},{"t":5.8,"v":0.80},{"t":6.3,"v":0.98},{"t":6.8,"v":0.69},{"t":7.3,"v":0.88},{"t":7.8,"v":0.80},{"t":8.6,"v":0.73},{"t":9.3,"v":0.80},{"t":10.1,"v":0.84},{"t":10.8,"v":0.71},{"t":11.6,"v":0.76},{"t":12.4,"v":0.67},{"t":13.1,"v":0.80},{"t":13.9,"v":0.69},{"t":14.6,"v":0.63},{"t":15.4,"v":0.55},{"t":16.1,"v":0.47},{"t":16.9,"v":0.45},{"t":17.7,"v":0.49},{"t":18.4,"v":0.55},{"t":19.2,"v":0.51},{"t":19.7,"v":0.61},{"t":20.2,"v":0.30},{"t":20.7,"v":0.0},{"t":21.2,"v":0.71},{"t":21.9,"v":0.61},{"t":22.7,"v":0.65},{"t":23.5,"v":0.55},{"t":24.2,"v":0.65},{"t":24.7,"v":0.38},{"t":25.5,"v":0.55},{"t":26.2,"v":0.63},{"t":27,"v":0.61},{"t":27.7,"v":0.73},{"t":28.5,"v":0.55},{"t":29.3,"v":0.59},{"t":30,"v":0.51},{"t":30.8,"v":0.63},{"t":31.5,"v":0.55},{"t":32.3,"v":0.69},{"t":33,"v":0.51},{"t":33.8,"v":0.59},{"t":34.6,"v":0.65},{"t":35.3,"v":0.76},{"t":36.1,"v":0.49},{"t":36.8,"v":0.63},{"t":37.6,"v":0.57},{"t":38.3,"v":0.49},{"t":39.1,"v":0.55},{"t":39.9,"v":0.45},{"t":40.6,"v":0.51},{"t":41.4,"v":0.47},{"t":42.1,"v":0.59},{"t":42.9,"v":0.45},{"t":43.6,"v":0.53},{"t":44.4,"v":0.38},{"t":45.2,"v":0.42},{"t":45.9,"v":0.32},{"t":46.7,"v":0.45},{"t":47.4,"v":0.42},{"t":48.2,"v":0.49},{"t":48.9,"v":0.38},{"t":49.7,"v":0.24},{"t":50.4,"v":0.69},{"t":51.2,"v":0.53},{"t":52,"v":0.47},{"t":52.7,"v":0.42},{"t":53.5,"v":0.55},{"t":54.2,"v":0.40},{"t":55,"v":0.45},{"t":55.7,"v":0.38},{"t":56.5,"v":0.11},{"t":57,"v":0.49},{"t":57.8,"v":0.44},{"t":58.5,"v":0.38},{"t":59.3,"v":0.45},{"t":60,"v":0.32},{"t":60.8,"v":0.42},{"t":61.5,"v":0.34},{"t":62.3,"v":0.47},{"t":63,"v":0.38},{"t":63.8,"v":0.30},{"t":64.6,"v":0.34},{"t":65.3,"v":0.40},{"t":66.1,"v":0.26},{"t":66.8,"v":0.30},{"t":67.6,"v":0.36},{"t":68.3,"v":0.26},{"t":69.1,"v":0.30},{"t":69.9,"v":0.22},{"t":70.4,"v":0.09},{"t":70.9,"v":0.30},{"t":71.6,"v":0.24},{"t":72.4,"v":0.34},{"t":73.1,"v":0.24},{"t":73.9,"v":0.16},{"t":74.7,"v":0.28},{"t":75.4,"v":0.22},{"t":76.2,"v":0.28},{"t":76.9,"v":0.16},{"t":77.7,"v":0.11},{"t":78.4,"v":0.18},{"t":79.2,"v":0.07},{"t":80,"v":0.15},{"t":80.7,"v":0.11},{"t":81.5,"v":0.16},{"t":82.2,"v":0.13},{"t":83,"v":0.24},{"t":83.5,"v":0.36},{"t":84.2,"v":0.11},{"t":85,"v":0.22},{"t":85.7,"v":0.13},{"t":86.4,"v":0.16}],
    "tf22": [{"t":0,"v":0.75},{"t":86.6,"v":0.18}],
    "r23": [{"t":0,"v":0.31},{"t":0.5,"v":0.17},{"t":1.1,"v":0.27},{"t":1.9,"v":0.20},{"t":2.6,"v":0.24},{"t":3.2,"v":0.19},{"t":4,"v":0.31},{"t":4.5,"v":0.54},{"t":5.3,"v":0.38},{"t":6.1,"v":0.26},{"t":6.9,"v":0.36},{"t":7.7,"v":0.48},{"t":8.2,"v":0.50},{"t":9,"v":0.29},{"t":9.8,"v":0.41},{"t":10.6,"v":0.38},{"t":11.4,"v":0.33},{"t":12.2,"v":0.41},{"t":13,"v":0.38},{"t":13.8,"v":0.41},{"t":14.6,"v":0.31},{"t":15.4,"v":0.24},{"t":16.2,"v":0.29},{"t":17,"v":0.36},{"t":17.7,"v":0.43},{"t":18.5,"v":0.48},{"t":19.1,"v":0.59},{"t":19.9,"v":0.45},{"t":20.7,"v":0.38},{"t":21.5,"v":0.43},{"t":22.3,"v":0.45},{"t":23,"v":0.38},{"t":23.8,"v":0.31},{"t":24.6,"v":0.38},{"t":25.4,"v":0.34},{"t":26.2,"v":0.41},{"t":27,"v":0.47},{"t":27.8,"v":0.40},{"t":28.6,"v":0.43},{"t":29.4,"v":0.52},{"t":30.2,"v":0.45},{"t":31,"v":0.40},{"t":31.8,"v":0.41},{"t":32.3,"v":0.34},{"t":33.1,"v":0.59},{"t":33.9,"v":0.68},{"t":34.7,"v":0.59},{"t":35.5,"v":0.61},{"t":36.3,"v":0.55},{"t":37.1,"v":0.59},{"t":37.9,"v":0.50},{"t":38.7,"v":0.57},{"t":39.5,"v":0.69},{"t":40,"v":0.89},{"t":40.8,"v":0.61},{"t":41.6,"v":0.41},{"t":42.4,"v":0.48},{"t":43.2,"v":0.45},{"t":44,"v":0.50},{"t":44.8,"v":0.45},{"t":45.6,"v":0.66},{"t":46.4,"v":0.82},{"t":47.2,"v":0.54},{"t":47.9,"v":0.48},{"t":48.7,"v":0.55},{"t":49.5,"v":0.52},{"t":50.3,"v":0.69},{"t":51.1,"v":0.83},{"t":51.9,"v":0.73},{"t":52.7,"v":0.96},{"t":53.5,"v":0.78},{"t":54.3,"v":0.50},{"t":55.1,"v":0.69},{"t":55.9,"v":0.80},{"t":56.7,"v":0.99},{"t":57.5,"v":0.82},{"t":58.3,"v":0.69},{"t":59.1,"v":0.75},{"t":59.9,"v":0.61},{"t":60.7,"v":0.73},{"t":61.5,"v":0.80},{"t":62.3,"v":0.69},{"t":63,"v":0.76},{"t":63.8,"v":0.87},{"t":64.6,"v":0.69},{"t":65.4,"v":0.64},{"t":66.2,"v":0.73},{"t":67,"v":0.68},{"t":67.8,"v":0.76},{"t":68.6,"v":0.69},{"t":69.4,"v":0.59},{"t":70.2,"v":0.68},{"t":71,"v":0.82},{"t":71.8,"v":0.78},{"t":72.3,"v":0.59},{"t":72.8,"v":0.43},{"t":73.4,"v":0.80},{"t":73.9,"v":0.52},{"t":74.4,"v":0.41},{"t":75.2,"v":0.54},{"t":76,"v":0.50},{"t":76.8,"v":0.38},{"t":77.6,"v":0.47},{"t":78.4,"v":0.34},{"t":79.2,"v":0.41},{"t":80,"v":0.45},{"t":80.8,"v":0.38},{"t":81.6,"v":0.41},{"t":82.4,"v":0.33},{"t":83.2,"v":0.45},{"t":84,"v":0.48},{"t":84.8,"v":0.41},{"t":85.6,"v":0.52},{"t":86.4,"v":0.36},{"t":87.2,"v":0.45},{"t":87.9,"v":0.50},{"t":88.7,"v":0.41},{"t":89.5,"v":0.47},{"t":90.3,"v":0.34},{"t":91,"v":0.27}],
    "tr23": [{"t":0,"v":0.40},{"t":17.5,"v":0.43},{"t":34.7,"v":0.48},{"t":50.6,"v":0.53},{"t":63.8,"v":0.56},{"t":71.8,"v":0.58},{"t":82.4,"v":0.61},{"t":91.4,"v":0.64}],
    "f23": [{"t":0,"v":0.36},{"t":0.5,"v":0.73},{"t":1.3,"v":0.69},{"t":2.1,"v":0.78},{"t":2.9,"v":0.65},{"t":3.7,"v":0.76},{"t":4.5,"v":0.61},{"t":5.3,"v":0.69},{"t":6.1,"v":0.76},{"t":6.9,"v":0.50},{"t":7.7,"v":0.65},{"t":8.5,"v":0.76},{"t":9.3,"v":0.80},{"t":10.1,"v":0.57},{"t":10.9,"v":0.44},{"t":11.7,"v":0.65},{"t":12.5,"v":0.76},{"t":13.2,"v":0.90},{"t":13.8,"v":0.34},{"t":14.6,"v":0.61},{"t":15.4,"v":0.69},{"t":16.2,"v":0.61},{"t":17,"v":0.78},{"t":17.7,"v":0.57},{"t":18.5,"v":0.71},{"t":19.3,"v":0.50},{"t":20.1,"v":0.46},{"t":20.9,"v":0.57},{"t":21.7,"v":0.40},{"t":22.5,"v":0.53},{"t":23.3,"v":0.65},{"t":24.1,"v":0.76},{"t":24.9,"v":0.57},{"t":25.7,"v":0.36},{"t":26.5,"v":0.51},{"t":27.3,"v":0.73},{"t":28.1,"v":0.57},{"t":28.9,"v":0.65},{"t":29.7,"v":0.50},{"t":30.5,"v":0.42},{"t":31.3,"v":0.59},{"t":32.1,"v":0.76},{"t":32.8,"v":0.65},{"t":33.6,"v":0.82},{"t":34.4,"v":0.57},{"t":35.2,"v":0.42},{"t":36,"v":0.36},{"t":36.8,"v":0.46},{"t":37.6,"v":0.57},{"t":38.4,"v":0.69},{"t":39.2,"v":0.76},{"t":40,"v":0.55},{"t":40.8,"v":0.46},{"t":41.6,"v":0.59},{"t":42.4,"v":0.42},{"t":43.2,"v":0.23},{"t":44,"v":0.50},{"t":44.8,"v":0.78},{"t":45.6,"v":0.55},{"t":46.4,"v":0.42},{"t":47.2,"v":0.50},{"t":47.9,"v":0.61},{"t":48.7,"v":0.50},{"t":49.5,"v":0.42},{"t":50.3,"v":0.51},{"t":51.1,"v":0.61},{"t":51.9,"v":0.50},{"t":52.7,"v":0.42},{"t":53.5,"v":0.30},{"t":54.3,"v":0.51},{"t":55.1,"v":0.42},{"t":55.9,"v":0.25},{"t":56.4,"v":0.78},{"t":57.2,"v":0.53},{"t":58,"v":0.46},{"t":58.8,"v":0.61},{"t":59.6,"v":0.65},{"t":60.4,"v":0.51},{"t":61.2,"v":0.42},{"t":62,"v":0.57},{"t":62.8,"v":0.48},{"t":63.6,"v":0.36},{"t":64.4,"v":0.46},{"t":65.2,"v":0.30},{"t":65.9,"v":0.19},{"t":66.7,"v":0.42},{"t":67.5,"v":0.30},{"t":68.3,"v":0.42},{"t":69.1,"v":0.23},{"t":69.9,"v":0.32},{"t":70.7,"v":0.42},{"t":71.5,"v":0.26},{"t":72.3,"v":0.34},{"t":73.1,"v":0.25},{"t":73.9,"v":0.51},{"t":74.7,"v":0.34},{"t":75.5,"v":0.23},{"t":76.3,"v":0.30},{"t":77.1,"v":0.21},{"t":77.9,"v":0.32},{"t":78.7,"v":0.23},{"t":79.5,"v":0.19},{"t":80.3,"v":0.26},{"t":81.1,"v":0.17},{"t":81.9,"v":0.11},{"t":82.6,"v":0.19},{"t":83.4,"v":0.11},{"t":84.2,"v":0.15},{"t":85,"v":0.07},{"t":85.8,"v":0.13},{"t":86.6,"v":0.05},{"t":87.4,"v":0.03},{"t":88.2,"v":0.11},{"t":88.7,"v":0.19},{"t":89.3,"v":0.01},{"t":90.1,"v":0.13},{"t":90.7,"v":0.13}],
    "tf23": [{"t":0,"v":0.70},{"t":91.4,"v":0.25}],
    "r24": [{"t":0,"v":0.35},{"t":0.4,"v":0.47},{"t":1.1,"v":0.35},{"t":1.7,"v":0.43},{"t":2.3,"v":0.38},{"t":2.9,"v":0.31},{"t":3.6,"v":0.35},{"t":4.2,"v":0.29},{"t":4.8,"v":0.35},{"t":5.5,"v":0.31},{"t":6.1,"v":0.26},{"t":6.7,"v":0.35},{"t":7.4,"v":0.55},{"t":7.8,"v":0.47},{"t":8.4,"v":0.26},{"t":9.1,"v":0.35},{"t":9.7,"v":0.42},{"t":10.3,"v":0.52},{"t":10.9,"v":0.47},{"t":11.6,"v":0.55},{"t":12.2,"v":0.69},{"t":12.8,"v":0.57},{"t":13.5,"v":0.49},{"t":14.1,"v":0.57},{"t":14.7,"v":0.54},{"t":15.4,"v":0.47},{"t":16,"v":0.38},{"t":16.4,"v":0.17},{"t":17.1,"v":0.40},{"t":17.7,"v":0.62},{"t":18.1,"v":0.66},{"t":18.7,"v":0.47},{"t":19.4,"v":0.35},{"t":20,"v":0.43},{"t":20.6,"v":0.29},{"t":21.1,"v":0.14},{"t":21.7,"v":0.26},{"t":22.3,"v":0.38},{"t":22.9,"v":0.49},{"t":23.4,"v":0.59},{"t":24,"v":0.68},{"t":24.6,"v":0.47},{"t":25.3,"v":0.35},{"t":25.9,"v":0.29},{"t":26.5,"v":0.52},{"t":27,"v":0.83},{"t":27.6,"v":0.61},{"t":28.2,"v":0.52},{"t":28.8,"v":0.31},{"t":29.5,"v":0.22},{"t":30.1,"v":0.38},{"t":30.7,"v":0.43},{"t":31.4,"v":0.24},{"t":32,"v":0.52},{"t":32.6,"v":0.66},{"t":33.3,"v":0.55},{"t":33.9,"v":0.47},{"t":34.5,"v":0.52},{"t":35.2,"v":0.57},{"t":35.8,"v":0.49},{"t":36.4,"v":0.52},{"t":37.1,"v":0.57},{"t":37.7,"v":0.52},{"t":38.3,"v":0.35},{"t":38.9,"v":0.55},{"t":39.6,"v":0.62},{"t":40.2,"v":0.57},{"t":40.8,"v":0.64},{"t":41.5,"v":0.80},{"t":42.1,"v":0.71},{"t":42.7,"v":0.82},{"t":43.4,"v":0.69},{"t":44,"v":0.66},{"t":44.6,"v":0.78},{"t":45.3,"v":0.69},{"t":45.9,"v":0.64},{"t":46.3,"v":0.52},{"t":46.8,"v":0.66},{"t":47.4,"v":0.90},{"t":48,"v":0.97},{"t":48.6,"v":1.0},{"t":49.3,"v":0.82},{"t":49.9,"v":0.89},{"t":50.5,"v":0.78},{"t":51.2,"v":0.85},{"t":51.8,"v":0.75},{"t":52.4,"v":0.80},{"t":53.1,"v":0.73},{"t":53.7,"v":0.80},{"t":54.3,"v":0.85},{"t":54.9,"v":0.75},{"t":55.6,"v":0.68},{"t":56.2,"v":0.76},{"t":56.8,"v":0.82},{"t":57.5,"v":0.75},{"t":58.1,"v":0.84},{"t":58.7,"v":0.90},{"t":59.4,"v":0.78},{"t":60,"v":0.85},{"t":60.6,"v":0.80},{"t":61.3,"v":0.89},{"t":61.9,"v":0.82},{"t":62.5,"v":0.87},{"t":63.2,"v":0.92},{"t":63.8,"v":0.85},{"t":64.4,"v":0.94},{"t":65.1,"v":0.84},{"t":65.5,"v":0.64},{"t":66.1,"v":0.78},{"t":66.7,"v":0.85},{"t":67.4,"v":0.80},{"t":68,"v":0.89},{"t":68.6,"v":0.78},{"t":69.3,"v":0.85},{"t":69.9,"v":0.94},{"t":70.5,"v":0.85},{"t":71.2,"v":0.76},{"t":71.6,"v":0.68},{"t":72.1,"v":0.78}],
    "tr24": [{"t":0,"v":0.30},{"t":72.6,"v":0.87}],
    "f24": [{"t":0,"v":0.88},{"t":0.4,"v":0.90},{"t":1.1,"v":0.77},{"t":1.7,"v":0.61},{"t":2.2,"v":0.48},{"t":2.7,"v":0.69},{"t":3.4,"v":0.75},{"t":4,"v":0.61},{"t":4.6,"v":0.71},{"t":5.3,"v":0.55},{"t":5.9,"v":0.48},{"t":6.5,"v":0.77},{"t":7.2,"v":0.80},{"t":7.8,"v":0.69},{"t":8.4,"v":0.59},{"t":9.1,"v":0.69},{"t":9.7,"v":0.65},{"t":10.3,"v":0.77},{"t":10.7,"v":0.90},{"t":11.2,"v":0.65},{"t":11.8,"v":0.55},{"t":12.4,"v":0.63},{"t":13.1,"v":0.55},{"t":13.7,"v":0.61},{"t":14.3,"v":0.53},{"t":14.9,"v":0.50},{"t":15.6,"v":0.65},{"t":16.2,"v":0.73},{"t":16.8,"v":0.59},{"t":17.5,"v":0.69},{"t":18.1,"v":0.63},{"t":18.7,"v":0.67},{"t":19.4,"v":0.69},{"t":20,"v":0.61},{"t":20.6,"v":0.38},{"t":21.3,"v":0.55},{"t":21.7,"v":0.38},{"t":22.1,"v":0.61},{"t":22.7,"v":0.57},{"t":23.4,"v":0.69},{"t":23.8,"v":0.78},{"t":24.4,"v":0.57},{"t":25.1,"v":0.50},{"t":25.7,"v":0.77},{"t":26.3,"v":0.61},{"t":27,"v":0.53},{"t":27.6,"v":0.50},{"t":28.2,"v":0.57},{"t":28.8,"v":0.48},{"t":29.5,"v":0.53},{"t":30.1,"v":0.44},{"t":30.7,"v":0.50},{"t":31.4,"v":0.65},{"t":32,"v":0.46},{"t":32.6,"v":0.61},{"t":33.3,"v":0.53},{"t":33.9,"v":0.46},{"t":34.5,"v":0.61},{"t":35.2,"v":0.48},{"t":35.8,"v":0.38},{"t":36.4,"v":0.55},{"t":37.1,"v":0.63},{"t":37.7,"v":0.52},{"t":38.3,"v":0.59},{"t":38.9,"v":0.50},{"t":39.6,"v":0.55},{"t":40.2,"v":0.59},{"t":40.8,"v":0.52},{"t":41.5,"v":0.57},{"t":42.1,"v":0.42},{"t":42.7,"v":0.46},{"t":43.4,"v":0.32},{"t":44,"v":0.42},{"t":44.6,"v":0.30},{"t":45.3,"v":0.40},{"t":45.9,"v":0.27},{"t":46.5,"v":0.38},{"t":47.2,"v":0.23},{"t":47.6,"v":0.34},{"t":48.3,"v":0.29},{"t":48.9,"v":0.34},{"t":49.5,"v":0.25},{"t":50.1,"v":0.30},{"t":50.7,"v":0.23},{"t":51.4,"v":0.29},{"t":52,"v":0.21},{"t":52.6,"v":0.30},{"t":53.3,"v":0.23},{"t":53.9,"v":0.27},{"t":54.5,"v":0.21},{"t":55.2,"v":0.29},{"t":55.8,"v":0.23},{"t":56.4,"v":0.29},{"t":57.1,"v":0.25},{"t":57.7,"v":0.38},{"t":58.1,"v":0.11},{"t":58.7,"v":0.23},{"t":59.4,"v":0.17},{"t":60,"v":0.27},{"t":60.6,"v":0.11},{"t":61.3,"v":0.17},{"t":61.9,"v":0.13},{"t":62.5,"v":0.19},{"t":63.2,"v":0.11},{"t":63.8,"v":0.15},{"t":64.4,"v":0.09},{"t":65.1,"v":0.15},{"t":65.7,"v":0.07},{"t":66.3,"v":0.13},{"t":66.9,"v":0.09},{"t":67.6,"v":0.05},{"t":68.2,"v":0.09},{"t":68.8,"v":0.02},{"t":69.5,"v":0.11},{"t":70.1,"v":0.05},{"t":70.7,"v":0.11},{"t":71.4,"v":0.02},{"t":72,"v":0.07}],
    "tf24": [{"t":0,"v":0.79},{"t":72.6,"v":0.09}],
    "r31": [{"t":0,"v":0.49},{"t":0.5,"v":0.54},{"t":0.9,"v":0.40},{"t":1.4,"v":0.51},{"t":2.1,"v":0.45},{"t":2.8,"v":0.71},{"t":3.2,"v":0.62},{"t":3.9,"v":0.38},{"t":4.4,"v":0.31},{"t":4.8,"v":0.43},{"t":5.3,"v":0.23},{"t":5.7,"v":0.54},{"t":6.2,"v":0.73},{"t":6.9,"v":0.49},{"t":7.6,"v":0.67},{"t":8.3,"v":0.58},{"t":9,"v":0.69},{"t":9.7,"v":0.51},{"t":10.3,"v":0.62},{"t":11,"v":0.56},{"t":11.7,"v":0.64},{"t":12.4,"v":0.49},{"t":13.1,"v":0.38},{"t":13.8,"v":0.62},{"t":14.3,"v":0.85},{"t":14.7,"v":1.0},{"t":15.2,"v":0.76},{"t":15.9,"v":0.58},{"t":16.6,"v":0.32},{"t":17,"v":0.56},{"t":17.7,"v":0.62},{"t":18.2,"v":0.76},{"t":18.9,"v":0.74},{"t":19.5,"v":0.64},{"t":20.2,"v":0.53},{"t":20.9,"v":0.45},{"t":21.6,"v":0.38},{"t":22.3,"v":0.58},{"t":22.8,"v":0.85},{"t":23.2,"v":1.0},{"t":23.7,"v":0.71},{"t":24.4,"v":0.45},{"t":25.1,"v":0.58},{"t":25.7,"v":0.43},{"t":26.4,"v":0.78},{"t":27.1,"v":0.67},{"t":27.8,"v":0.74},{"t":28.5,"v":0.65},{"t":29.2,"v":0.80},{"t":29.9,"v":0.67},{"t":30.6,"v":0.54},{"t":31.3,"v":0.40},{"t":32,"v":0.36},{"t":32.4,"v":0.31},{"t":33.1,"v":0.49},{"t":33.8,"v":0.64},{"t":34.5,"v":0.56},{"t":35.2,"v":0.76},{"t":35.9,"v":0.64},{"t":36.6,"v":0.67},{"t":37.2,"v":0.49},{"t":37.9,"v":0.36},{"t":38.4,"v":0.27},{"t":38.9,"v":0.51},{"t":39.5,"v":0.64},{"t":40.2,"v":0.89},{"t":40.7,"v":0.74},{"t":41.4,"v":0.67},{"t":42.1,"v":0.73},{"t":42.8,"v":0.67},{"t":43.4,"v":0.76},{"t":44.1,"v":0.82},{"t":44.6,"v":0.80},{"t":45.3,"v":0.71},{"t":46,"v":0.53},{"t":46.7,"v":0.65},{"t":47.4,"v":0.60},{"t":48,"v":0.67},{"t":48.7,"v":0.56},{"t":49.4,"v":0.62},{"t":50.1,"v":0.58},{"t":50.8,"v":0.69},{"t":51.5,"v":0.80},{"t":52.2,"v":0.60},{"t":52.9,"v":0.45},{"t":53.6,"v":0.34},{"t":54,"v":0.29},{"t":54.7,"v":0.49},{"t":55.4,"v":0.60},{"t":56.1,"v":0.71},{"t":56.8,"v":0.67},{"t":57.5,"v":0.56},{"t":58.2,"v":0.51},{"t":58.9,"v":0.42},{"t":59.5,"v":0.56},{"t":60.2,"v":0.71},{"t":60.9,"v":0.62},{"t":61.6,"v":0.56},{"t":62.3,"v":0.49},{"t":63,"v":0.67},{"t":63.7,"v":0.58},{"t":64.4,"v":0.67},{"t":65.1,"v":0.53},{"t":65.7,"v":0.43},{"t":66.4,"v":0.51},{"t":67.1,"v":0.45},{"t":67.8,"v":0.54},{"t":68.5,"v":0.38},{"t":69.2,"v":0.49},{"t":69.9,"v":0.42},{"t":70.3,"v":0.78},{"t":71,"v":0.49},{"t":71.7,"v":0.36},{"t":72.4,"v":0.58},{"t":73.1,"v":0.73},{"t":73.8,"v":0.43},{"t":74.3,"v":0.67},{"t":74.9,"v":0.42},{"t":75.6,"v":0.31},{"t":76.1,"v":0.60},{"t":76.6,"v":0.43},{"t":77,"v":0.31},{"t":77.5,"v":0.56},{"t":77.9,"v":0.51}],
    "tr31": [{"t":0,"v":0.57},{"t":78,"v":0.56}],
    "f31": [{"t":0,"v":0.83},{"t":0.2,"v":0.61},{"t":0.7,"v":0.76},{"t":1.1,"v":0.65},{"t":1.6,"v":0.73},{"t":2.1,"v":0.58},{"t":2.5,"v":0.65},{"t":3,"v":0.52},{"t":3.4,"v":0.69},{"t":3.9,"v":0.51},{"t":4.4,"v":0.61},{"t":4.8,"v":0.80},{"t":5.3,"v":0.58},{"t":5.7,"v":0.76},{"t":6.2,"v":0.43},{"t":6.7,"v":0.61},{"t":7.1,"v":0.85},{"t":7.6,"v":0.21},{"t":8,"v":0.47},{"t":8.5,"v":0.52},{"t":9,"v":0.43},{"t":9.4,"v":0.58},{"t":9.9,"v":0.47},{"t":10.6,"v":0.52},{"t":11.3,"v":0.43},{"t":12,"v":0.49},{"t":12.6,"v":0.40},{"t":13.3,"v":0.52},{"t":14,"v":0.38},{"t":14.7,"v":0.43},{"t":15.4,"v":0.29},{"t":15.9,"v":0.40},{"t":16.3,"v":0.49},{"t":16.8,"v":0.69},{"t":17.2,"v":0.36},{"t":17.7,"v":0.58},{"t":18.4,"v":0.47},{"t":19.1,"v":0.52},{"t":19.8,"v":0.43},{"t":20.5,"v":0.40},{"t":21.1,"v":0.47},{"t":21.8,"v":0.40},{"t":22.5,"v":0.43},{"t":23.2,"v":0.40},{"t":23.9,"v":0.51},{"t":24.6,"v":0.36},{"t":25.1,"v":0.05},{"t":25.5,"v":0.45},{"t":26.2,"v":0.52},{"t":26.7,"v":0.40},{"t":27.4,"v":0.45},{"t":28,"v":0.69},{"t":28.5,"v":0.43},{"t":29,"v":0.32},{"t":29.7,"v":0.42},{"t":30.3,"v":0.36},{"t":31,"v":0.43},{"t":31.7,"v":0.21},{"t":32.4,"v":0.40},{"t":33.1,"v":0.49},{"t":33.8,"v":0.65},{"t":34.5,"v":0.43},{"t":34.9,"v":0.31},{"t":35.6,"v":0.69},{"t":36.3,"v":0.58},{"t":37,"v":0.36},{"t":37.7,"v":0.25},{"t":38.4,"v":0.40},{"t":39.1,"v":0.29},{"t":39.5,"v":0.0},{"t":40,"v":0.31},{"t":40.7,"v":0.45},{"t":41.4,"v":0.69},{"t":42.1,"v":0.58},{"t":42.8,"v":0.49},{"t":43.4,"v":0.61},{"t":44.1,"v":0.58},{"t":44.8,"v":0.65},{"t":45.5,"v":0.40},{"t":46.2,"v":0.27},{"t":46.9,"v":0.40},{"t":47.6,"v":0.21},{"t":48.3,"v":0.32},{"t":49,"v":0.40},{"t":49.7,"v":0.45},{"t":50.3,"v":0.31},{"t":51,"v":0.43},{"t":51.7,"v":0.12},{"t":52.4,"v":0.32},{"t":53.1,"v":0.40},{"t":53.8,"v":0.29},{"t":54.5,"v":0.58},{"t":55.2,"v":0.40},{"t":55.9,"v":0.32},{"t":56.6,"v":0.25},{"t":57.2,"v":0.36},{"t":57.9,"v":0.29},{"t":58.6,"v":0.40},{"t":59.3,"v":0.32},{"t":60,"v":0.25},{"t":60.7,"v":0.47},{"t":61.4,"v":0.40},{"t":62.1,"v":0.31},{"t":62.8,"v":0.21},{"t":63.4,"v":0.29},{"t":64.1,"v":0.20},{"t":64.8,"v":0.25},{"t":65.5,"v":0.09},{"t":66.2,"v":0.23},{"t":66.9,"v":0.16},{"t":67.6,"v":0.29},{"t":68.3,"v":0.20},{"t":69,"v":0.25},{"t":69.7,"v":0.14},{"t":70.3,"v":0.23},{"t":71,"v":0.43},{"t":71.7,"v":0.21},{"t":72.4,"v":0.32},{"t":73.1,"v":0.12},{"t":73.8,"v":0.29},{"t":74.5,"v":0.18},{"t":75.2,"v":0.32},{"t":75.9,"v":0.16},{"t":76.6,"v":0.25},{"t":77.2,"v":0.14},{"t":77.9,"v":0.21}],
    "tf31": [{"t":0,"v":0.55},{"t":78,"v":0.24}],
    "r32": [{"t":0,"v":0.10},{"t":0.5,"v":0.25},{"t":0.9,"v":0.16},{"t":1.4,"v":0.28},{"t":1.8,"v":0.18},{"t":2.3,"v":0.25},{"t":2.8,"v":0.32},{"t":3.2,"v":0.19},{"t":3.7,"v":0.10},{"t":4.1,"v":0.18},{"t":4.6,"v":0.21},{"t":5.1,"v":0.30},{"t":5.5,"v":0.25},{"t":6,"v":0.18},{"t":6.4,"v":0.19},{"t":6.9,"v":0.14},{"t":7.4,"v":0.09},{"t":7.8,"v":0.16},{"t":8.3,"v":0.18},{"t":9,"v":0.14},{"t":9.4,"v":0.19},{"t":9.9,"v":0.47},{"t":10.3,"v":0.32},{"t":10.8,"v":0.23},{"t":11.3,"v":0.18},{"t":11.7,"v":0.32},{"t":12.2,"v":0.27},{"t":12.6,"v":0.36},{"t":13.1,"v":0.28},{"t":13.6,"v":0.48},{"t":14,"v":0.59},{"t":14.5,"v":0.39},{"t":14.9,"v":0.28},{"t":15.4,"v":0.21},{"t":15.9,"v":0.12},{"t":16.3,"v":0.23},{"t":16.8,"v":0.27},{"t":17.2,"v":0.36},{"t":17.7,"v":0.47},{"t":18.2,"v":0.41},{"t":18.6,"v":0.36},{"t":19.1,"v":0.27},{"t":19.5,"v":0.19},{"t":20,"v":0.28},{"t":20.5,"v":0.18},{"t":20.9,"v":0.03},{"t":21.4,"v":0.18},{"t":21.8,"v":0.25},{"t":22.3,"v":0.14},{"t":22.8,"v":0.03},{"t":23.2,"v":0.14},{"t":23.7,"v":0.0},{"t":24.1,"v":0.32},{"t":24.6,"v":0.43},{"t":25.1,"v":0.36},{"t":25.5,"v":0.28},{"t":26,"v":0.21},{"t":26.4,"v":0.28},{"t":26.9,"v":0.36},{"t":27.4,"v":0.28},{"t":27.8,"v":0.44},{"t":28.3,"v":0.36},{"t":28.7,"v":0.25},{"t":29.2,"v":0.18},{"t":29.7,"v":0.12},{"t":30.1,"v":0.21},{"t":30.6,"v":0.28},{"t":31,"v":0.18},{"t":31.5,"v":0.25},{"t":32,"v":0.14},{"t":32.4,"v":0.07},{"t":32.9,"v":0.18},{"t":33.3,"v":0.10},{"t":33.8,"v":0.01},{"t":34.3,"v":0.23},{"t":34.7,"v":0.34},{"t":35.2,"v":0.30},{"t":35.6,"v":0.36},{"t":36.1,"v":0.28},{"t":36.6,"v":0.36},{"t":37,"v":0.25},{"t":37.5,"v":0.19},{"t":37.9,"v":0.36},{"t":38.4,"v":0.39},{"t":38.9,"v":0.32},{"t":39.3,"v":0.36},{"t":39.8,"v":0.39},{"t":40.2,"v":0.32},{"t":40.7,"v":0.28},{"t":41.1,"v":0.36},{"t":41.6,"v":0.47},{"t":42.1,"v":0.41},{"t":42.5,"v":0.36},{"t":43,"v":0.28},{"t":43.4,"v":0.23},{"t":43.9,"v":0.19},{"t":44.6,"v":0.25},{"t":45.3,"v":0.27},{"t":46,"v":0.21},{"t":46.6,"v":0.25},{"t":47.4,"v":0.19},{"t":48,"v":0.21},{"t":48.7,"v":0.18},{"t":49.4,"v":0.23},{"t":50.1,"v":0.28},{"t":50.8,"v":0.34},{"t":51.3,"v":0.50},{"t":51.7,"v":0.54},{"t":52.2,"v":0.50},{"t":52.6,"v":0.52},{"t":53.1,"v":0.48},{"t":53.6,"v":0.39},{"t":54,"v":0.36},{"t":54.5,"v":0.41},{"t":54.9,"v":0.37},{"t":55.4,"v":0.43},{"t":55.9,"v":0.39},{"t":56.3,"v":0.32},{"t":56.8,"v":0.45},{"t":57.2,"v":0.41},{"t":57.7,"v":0.50},{"t":58.2,"v":0.54},{"t":58.6,"v":0.48},{"t":59.1,"v":0.45},{"t":59.5,"v":0.56},{"t":60,"v":0.57},{"t":60.5,"v":0.48},{"t":60.9,"v":0.52},{"t":61.4,"v":0.45},{"t":61.8,"v":0.50},{"t":62.3,"v":0.47},{"t":62.8,"v":0.43},{"t":63.2,"v":0.47},{"t":63.7,"v":0.27},{"t":64.1,"v":0.52},{"t":64.6,"v":0.57},{"t":65.1,"v":0.54},{"t":65.5,"v":0.59},{"t":66,"v":0.50},{"t":66.4,"v":0.47},{"t":66.9,"v":0.54},{"t":67.4,"v":0.63},{"t":67.8,"v":0.57},{"t":68.3,"v":0.54},{"t":68.7,"v":0.59},{"t":69.2,"v":0.68},{"t":69.7,"v":0.50},{"t":70.1,"v":0.63},{"t":70.6,"v":0.76},{"t":71,"v":0.79},{"t":71.5,"v":0.65},{"t":71.9,"v":0.72},{"t":72.4,"v":0.61},{"t":72.9,"v":0.68},{"t":73.3,"v":0.59},{"t":73.8,"v":0.70},{"t":74.3,"v":0.76},{"t":74.7,"v":0.86},{"t":75.2,"v":0.68},{"t":75.6,"v":0.74},{"t":76.1,"v":0.64},{"t":76.6,"v":0.72},{"t":77,"v":0.61},{"t":77.5,"v":0.68},{"t":77.9,"v":1.0},{"t":78.4,"v":0.68},{"t":78.9,"v":0.64}],
    "tr32": [{"t":0,"v":0.11},{"t":19.8,"v":0.20},{"t":35.9,"v":0.30},{"t":50.8,"v":0.40},{"t":62.3,"v":0.47},{"t":79,"v":0.57}],
    "f32": [{"t":0,"v":0.67},{"t":0.5,"v":0.78},{"t":0.9,"v":0.72},{"t":1.4,"v":0.65},{"t":2.1,"v":0.68},{"t":2.8,"v":0.63},{"t":3.4,"v":0.67},{"t":4.1,"v":0.63},{"t":4.8,"v":0.68},{"t":5.5,"v":0.61},{"t":6,"v":0.70},{"t":6.4,"v":0.79},{"t":6.9,"v":0.92},{"t":7.4,"v":0.67},{"t":7.8,"v":0.59},{"t":8.3,"v":0.56},{"t":8.7,"v":0.63},{"t":9.2,"v":0.47},{"t":9.7,"v":0.57},{"t":10.1,"v":0.67},{"t":10.6,"v":0.59},{"t":11,"v":0.68},{"t":11.5,"v":0.72},{"t":12,"v":0.61},{"t":12.4,"v":0.70},{"t":12.9,"v":0.67},{"t":13.3,"v":0.56},{"t":13.8,"v":0.63},{"t":14.3,"v":0.52},{"t":14.7,"v":0.59},{"t":15.2,"v":0.52},{"t":15.6,"v":0.54},{"t":16.1,"v":0.48},{"t":16.6,"v":0.54},{"t":17,"v":0.47},{"t":17.5,"v":0.34},{"t":17.9,"v":0.54},{"t":18.4,"v":0.65},{"t":18.9,"v":0.48},{"t":19.3,"v":0.54},{"t":19.8,"v":0.28},{"t":20.2,"v":0.45},{"t":20.7,"v":0.54},{"t":21.1,"v":0.48},{"t":21.6,"v":0.45},{"t":22.1,"v":0.52},{"t":22.5,"v":0.47},{"t":23,"v":0.52},{"t":23.4,"v":0.45},{"t":23.9,"v":0.50},{"t":24.4,"v":0.45},{"t":24.8,"v":0.48},{"t":25.3,"v":0.54},{"t":25.7,"v":0.56},{"t":26.2,"v":0.48},{"t":26.7,"v":0.52},{"t":27.1,"v":0.48},{"t":27.6,"v":0.45},{"t":28,"v":0.52},{"t":28.5,"v":0.61},{"t":29,"v":0.68},{"t":29.4,"v":0.48},{"t":29.9,"v":0.41},{"t":30.3,"v":0.30},{"t":30.8,"v":0.37},{"t":31.3,"v":0.30},{"t":31.7,"v":0.50},{"t":32.2,"v":0.34},{"t":32.6,"v":0.45},{"t":33.1,"v":0.54},{"t":33.6,"v":0.41},{"t":34,"v":0.50},{"t":34.5,"v":0.39},{"t":34.9,"v":0.48},{"t":35.4,"v":0.23},{"t":35.9,"v":0.45},{"t":36.3,"v":0.52},{"t":36.8,"v":0.45},{"t":37.2,"v":0.39},{"t":37.7,"v":0.50},{"t":38.2,"v":0.45},{"t":38.6,"v":0.37},{"t":39.1,"v":0.45},{"t":39.5,"v":0.36},{"t":40,"v":0.43},{"t":40.5,"v":0.52},{"t":40.9,"v":0.45},{"t":41.4,"v":0.37},{"t":41.8,"v":0.30},{"t":42.3,"v":0.41},{"t":42.8,"v":0.30},{"t":43.2,"v":0.39},{"t":43.9,"v":0.30},{"t":44.6,"v":0.37},{"t":45.1,"v":0.59},{"t":45.5,"v":0.45},{"t":46,"v":0.34},{"t":46.4,"v":0.23},{"t":46.9,"v":0.30},{"t":47.4,"v":0.37},{"t":48,"v":0.30},{"t":48.7,"v":0.34},{"t":49.4,"v":0.26},{"t":50.1,"v":0.36},{"t":50.8,"v":0.26},{"t":51.5,"v":0.34},{"t":52.2,"v":0.30},{"t":52.9,"v":0.37},{"t":53.6,"v":0.34},{"t":54.3,"v":0.47},{"t":54.9,"v":0.36},{"t":55.6,"v":0.41},{"t":56.3,"v":0.30},{"t":57,"v":0.23},{"t":57.7,"v":0.14},{"t":58.4,"v":0.26},{"t":59.1,"v":0.14},{"t":59.8,"v":0.25},{"t":60.5,"v":0.16},{"t":61.1,"v":0.30},{"t":61.8,"v":0.37},{"t":62.5,"v":0.23},{"t":63.2,"v":0.30},{"t":63.9,"v":0.39},{"t":64.6,"v":0.25},{"t":65.3,"v":0.47},{"t":65.7,"v":0.34},{"t":66.4,"v":0.23},{"t":67.1,"v":0.30},{"t":67.8,"v":0.37},{"t":68.5,"v":0.23},{"t":69.2,"v":0.16},{"t":69.9,"v":0.25},{"t":70.6,"v":0.18},{"t":71,"v":0.05},{"t":71.5,"v":0.0},{"t":72,"v":0.12},{"t":72.6,"v":0.19},{"t":73.3,"v":0.16},{"t":74,"v":0.18},{"t":74.7,"v":0.10},{"t":75.4,"v":0.16},{"t":76.1,"v":0.12},{"t":76.8,"v":0.16},{"t":77.5,"v":0.10},{"t":78.2,"v":0.16},{"t":78.7,"v":0.14}],
    "tf32": [{"t":0,"v":0.67},{"t":79,"v":0.16}],
    "r33": [{"t":0,"v":0.19},{"t":0.3,"v":0.23},{"t":0.6,"v":0.26},{"t":1,"v":0.28},{"t":1.5,"v":0.34},{"t":1.9,"v":0.32},{"t":2.4,"v":0.35},{"t":2.8,"v":0.32},{"t":3.2,"v":0.37},{"t":3.7,"v":0.34},{"t":4.1,"v":0.39},{"t":4.6,"v":0.43},{"t":5,"v":0.35},{"t":5.4,"v":0.39},{"t":5.7,"v":0.34},{"t":6,"v":0.23},{"t":6.3,"v":0.39},{"t":6.6,"v":0.46},{"t":6.9,"v":0.50},{"t":7.2,"v":0.54},{"t":7.5,"v":0.46},{"t":7.9,"v":0.50},{"t":8.4,"v":0.43},{"t":8.7,"v":0.45},{"t":9,"v":0.54},{"t":9.3,"v":0.39},{"t":9.6,"v":0.55},{"t":9.9,"v":0.50},{"t":10.1,"v":0.43},{"t":10.4,"v":0.50},{"t":10.9,"v":0.46},{"t":11.3,"v":0.52},{"t":11.8,"v":0.50},{"t":12.2,"v":0.46},{"t":12.6,"v":0.54},{"t":13.1,"v":0.52},{"t":13.5,"v":0.48},{"t":14,"v":0.52},{"t":14.4,"v":0.43},{"t":14.9,"v":0.48},{"t":15.3,"v":0.41},{"t":15.7,"v":0.50},{"t":16.2,"v":0.45},{"t":16.6,"v":0.34},{"t":17.1,"v":0.43},{"t":17.5,"v":0.37},{"t":17.9,"v":0.50},{"t":18.2,"v":0.63},{"t":18.5,"v":0.50},{"t":18.8,"v":0.41},{"t":19.1,"v":0.46},{"t":19.4,"v":0.54},{"t":19.7,"v":0.45},{"t":20,"v":0.35},{"t":20.3,"v":0.45},{"t":20.6,"v":0.50},{"t":20.9,"v":0.46},{"t":21.2,"v":0.66},{"t":21.5,"v":0.54},{"t":21.8,"v":0.43},{"t":22.1,"v":0.35},{"t":22.4,"v":0.45},{"t":22.6,"v":0.52},{"t":22.9,"v":0.48},{"t":23.4,"v":0.37},{"t":23.8,"v":0.45},{"t":24.3,"v":0.50},{"t":24.6,"v":0.63},{"t":24.9,"v":0.48},{"t":25.1,"v":0.55},{"t":25.4,"v":0.26},{"t":25.7,"v":0.46},{"t":26,"v":0.41},{"t":26.3,"v":0.55},{"t":26.6,"v":0.45},{"t":26.9,"v":0.37},{"t":27.2,"v":0.32},{"t":27.5,"v":0.43},{"t":27.8,"v":0.41},{"t":28.1,"v":0.43},{"t":28.5,"v":0.45},{"t":29,"v":0.46},{"t":29.4,"v":0.45},{"t":29.9,"v":0.50},{"t":30.3,"v":0.48},{"t":30.6,"v":0.68},{"t":30.9,"v":0.61},{"t":31.2,"v":0.54},{"t":31.5,"v":0.61},{"t":31.8,"v":0.59},{"t":32.2,"v":0.63},{"t":32.6,"v":0.65},{"t":33.1,"v":0.59},{"t":33.5,"v":0.61},{"t":34,"v":0.54},{"t":34.3,"v":0.50},{"t":34.6,"v":0.57},{"t":34.9,"v":0.61},{"t":35.3,"v":0.57},{"t":35.7,"v":0.74},{"t":36,"v":0.86},{"t":36.3,"v":0.77},{"t":36.6,"v":0.70},{"t":36.9,"v":0.77},{"t":37.2,"v":0.81},{"t":37.5,"v":0.72},{"t":37.8,"v":0.81},{"t":38.1,"v":0.88},{"t":38.4,"v":0.81},{"t":38.7,"v":0.86},{"t":39,"v":0.77},{"t":39.3,"v":0.81},{"t":39.6,"v":0.72},{"t":39.9,"v":0.68},{"t":40.1,"v":0.75},{"t":40.4,"v":0.88},{"t":40.7,"v":0.94},{"t":41,"v":0.90},{"t":41.3,"v":0.97},{"t":41.6,"v":1.0},{"t":41.9,"v":0.94},{"t":42.2,"v":0.85},{"t":42.5,"v":0.81},{"t":42.8,"v":0.74},{"t":43.1,"v":0.81},{"t":43.4,"v":0.77},{"t":43.7,"v":0.82},{"t":44,"v":0.74},{"t":44.3,"v":0.68},{"t":44.6,"v":0.75},{"t":44.9,"v":0.68},{"t":45.1,"v":0.63},{"t":45.4,"v":0.72},{"t":45.7,"v":0.82},{"t":46,"v":0.68},{"t":46.3,"v":0.61},{"t":46.6,"v":0.63},{"t":46.9,"v":0.59},{"t":47.2,"v":0.61},{"t":47.5,"v":0.59},{"t":47.8,"v":0.54},{"t":48.1,"v":0.57},{"t":48.4,"v":0.55},{"t":48.7,"v":0.52},{"t":49,"v":0.55},{"t":49.3,"v":0.48},{"t":49.6,"v":0.32},{"t":49.9,"v":0.43},{"t":50.1,"v":0.45},{"t":50.4,"v":0.48}],
    "tr33": [{"t":0,"v":0.30},{"t":1.6,"v":0.32},{"t":7.5,"v":0.37},{"t":13.4,"v":0.43},{"t":22.2,"v":0.52},{"t":29.6,"v":0.56},{"t":35.4,"v":0.62},{"t":41.3,"v":0.66},{"t":46.5,"v":0.71},{"t":50.7,"v":0.74}],
    "f33": [{"t":0,"v":0.81},{"t":0.3,"v":0.92},{"t":0.7,"v":0.86},{"t":1.2,"v":0.94},{"t":1.6,"v":0.88},{"t":2.1,"v":0.81},{"t":2.5,"v":0.90},{"t":2.9,"v":0.84},{"t":3.4,"v":0.88},{"t":3.8,"v":0.83},{"t":4.3,"v":0.90},{"t":4.7,"v":0.77},{"t":5.1,"v":0.73},{"t":5.6,"v":0.84},{"t":5.9,"v":0.95},{"t":6,"v":1.0},{"t":6.3,"v":0.79},{"t":6.8,"v":0.75},{"t":7.2,"v":0.79},{"t":7.6,"v":0.81},{"t":8.1,"v":0.84},{"t":8.5,"v":0.79},{"t":9,"v":0.79},{"t":9.4,"v":0.75},{"t":9.7,"v":0.70},{"t":10.1,"v":0.79},{"t":10.6,"v":0.81},{"t":11,"v":0.72},{"t":11.5,"v":0.75},{"t":11.9,"v":0.73},{"t":12.4,"v":0.72},{"t":12.8,"v":0.70},{"t":13.2,"v":0.72},{"t":13.7,"v":0.68},{"t":14.1,"v":0.70},{"t":14.6,"v":0.66},{"t":15,"v":0.68},{"t":15.4,"v":0.64},{"t":15.9,"v":0.66},{"t":16.3,"v":0.63},{"t":16.8,"v":0.66},{"t":17.2,"v":0.61},{"t":17.6,"v":0.63},{"t":18.1,"v":0.64},{"t":18.5,"v":0.59},{"t":18.8,"v":0.53},{"t":19.1,"v":0.61},{"t":19.4,"v":0.64},{"t":19.7,"v":0.57},{"t":20,"v":0.68},{"t":20.3,"v":0.52},{"t":20.6,"v":0.72},{"t":20.9,"v":0.57},{"t":21.2,"v":0.73},{"t":21.5,"v":0.59},{"t":21.8,"v":0.72},{"t":22.1,"v":0.55},{"t":22.4,"v":0.59},{"t":22.6,"v":0.52},{"t":22.9,"v":0.57},{"t":23.2,"v":0.53},{"t":23.5,"v":0.48},{"t":23.8,"v":0.55},{"t":24.3,"v":0.52},{"t":24.7,"v":0.57},{"t":25,"v":0.50},{"t":25.3,"v":0.44},{"t":25.6,"v":0.59},{"t":25.9,"v":0.63},{"t":26.2,"v":0.53},{"t":26.5,"v":0.52},{"t":26.8,"v":0.46},{"t":27.1,"v":0.50},{"t":27.4,"v":0.46},{"t":27.8,"v":0.50},{"t":28.2,"v":0.44},{"t":28.5,"v":0.39},{"t":28.8,"v":0.44},{"t":29.3,"v":0.46},{"t":29.7,"v":0.44},{"t":30.1,"v":0.48},{"t":30.6,"v":0.50},{"t":31,"v":0.52},{"t":31.5,"v":0.48},{"t":31.9,"v":0.46},{"t":32.4,"v":0.41},{"t":32.8,"v":0.44},{"t":33.2,"v":0.39},{"t":33.7,"v":0.44},{"t":34,"v":0.37},{"t":34.4,"v":0.48},{"t":34.7,"v":0.50},{"t":35,"v":0.44},{"t":35.3,"v":0.35},{"t":35.6,"v":0.46},{"t":36,"v":0.39},{"t":36.5,"v":0.42},{"t":36.9,"v":0.35},{"t":37.4,"v":0.37},{"t":37.8,"v":0.31},{"t":38.2,"v":0.30},{"t":38.5,"v":0.26},{"t":38.8,"v":0.33},{"t":39.1,"v":0.28},{"t":39.6,"v":0.31},{"t":40,"v":0.26},{"t":40.3,"v":0.30},{"t":40.6,"v":0.24},{"t":41,"v":0.20},{"t":41.3,"v":0.15},{"t":41.6,"v":0.20},{"t":41.9,"v":0.26},{"t":42.2,"v":0.22},{"t":42.5,"v":0.24},{"t":42.9,"v":0.20},{"t":43.4,"v":0.17},{"t":43.8,"v":0.13},{"t":44.3,"v":0.08},{"t":44.6,"v":0.13},{"t":44.9,"v":0.17},{"t":45.3,"v":0.15},{"t":45.7,"v":0.19},{"t":46.2,"v":0.13},{"t":46.6,"v":0.17},{"t":47.1,"v":0.11},{"t":47.5,"v":0.13},{"t":47.9,"v":0.06},{"t":48.2,"v":0.0},{"t":48.5,"v":0.11},{"t":49,"v":0.08},{"t":49.4,"v":0.10},{"t":49.9,"v":0.06},{"t":50.3,"v":0.04}],
    "tf33": [{"t":0,"v":0.90},{"t":50.7,"v":0.10}],
    "r34": [{"t":0,"v":-0.04},{"t":0.5,"v":0.05},{"t":1.1,"v":0.06},{"t":1.6,"v":0.17},{"t":2,"v":0.28},{"t":2.3,"v":0.34},{"t":2.7,"v":0.35},{"t":3.2,"v":0.37},{"t":3.8,"v":0.35},{"t":4.3,"v":0.32},{"t":4.8,"v":0.26},{"t":5.4,"v":0.32},{"t":5.9,"v":0.34},{"t":6.4,"v":0.39},{"t":7,"v":0.41},{"t":7.5,"v":0.43},{"t":8.1,"v":0.45},{"t":8.6,"v":0.41},{"t":9,"v":0.45},{"t":9.5,"v":0.35},{"t":9.8,"v":0.19},{"t":10.2,"v":0.32},{"t":10.7,"v":0.35},{"t":11.3,"v":0.35},{"t":11.8,"v":0.37},{"t":12.2,"v":0.34},{"t":12.7,"v":0.41},{"t":13.2,"v":0.39},{"t":13.8,"v":0.45},{"t":14.3,"v":0.46},{"t":14.9,"v":0.50},{"t":15.2,"v":0.57},{"t":15.8,"v":0.63},{"t":16.1,"v":0.61},{"t":16.7,"v":0.54},{"t":17.2,"v":0.45},{"t":17.5,"v":0.48},{"t":17.9,"v":0.45},{"t":18.4,"v":0.43},{"t":18.8,"v":0.35},{"t":19.2,"v":0.19},{"t":19.5,"v":0.46},{"t":20.1,"v":0.43},{"t":20.6,"v":0.41},{"t":21,"v":0.37},{"t":21.5,"v":0.39},{"t":21.8,"v":0.35},{"t":22.2,"v":0.23},{"t":22.6,"v":0.10},{"t":23.1,"v":0.05},{"t":23.5,"v":0.12},{"t":23.8,"v":0.25},{"t":24.2,"v":0.35},{"t":24.5,"v":0.43},{"t":24.9,"v":0.21},{"t":25.2,"v":0.17},{"t":25.6,"v":0.30},{"t":26,"v":0.39},{"t":26.3,"v":0.45},{"t":26.9,"v":0.50},{"t":27.4,"v":0.52},{"t":27.9,"v":0.50},{"t":28.5,"v":0.52},{"t":29,"v":0.50},{"t":29.5,"v":0.52},{"t":29.9,"v":0.23},{"t":30.3,"v":0.39},{"t":30.6,"v":0.50},{"t":31,"v":0.57},{"t":31.3,"v":0.50},{"t":31.7,"v":0.39},{"t":32,"v":0.34},{"t":32.4,"v":0.28},{"t":32.8,"v":0.35},{"t":33.1,"v":0.48},{"t":33.5,"v":0.59},{"t":33.8,"v":0.68},{"t":34.2,"v":0.75},{"t":34.6,"v":0.85},{"t":34.9,"v":0.68},{"t":35.3,"v":0.52},{"t":35.6,"v":0.54},{"t":36,"v":0.61},{"t":36.3,"v":0.52},{"t":36.7,"v":0.57},{"t":37.1,"v":0.52},{"t":37.4,"v":0.59},{"t":37.8,"v":0.54},{"t":38.1,"v":0.57},{"t":38.5,"v":0.55},{"t":38.9,"v":0.43},{"t":39.2,"v":0.32},{"t":39.6,"v":0.43},{"t":39.9,"v":0.50},{"t":40.3,"v":0.57},{"t":40.6,"v":0.54},{"t":41,"v":0.45},{"t":41.4,"v":0.57},{"t":41.7,"v":0.64},{"t":42.1,"v":0.72},{"t":42.4,"v":0.59},{"t":42.8,"v":0.52},{"t":43.2,"v":0.59},{"t":43.5,"v":0.68},{"t":43.9,"v":0.74},{"t":44.2,"v":0.79},{"t":44.6,"v":0.81},{"t":44.9,"v":0.75},{"t":45.3,"v":0.68},{"t":45.7,"v":0.70},{"t":46,"v":0.63},{"t":46.4,"v":0.68},{"t":46.7,"v":0.61},{"t":47.1,"v":0.50},{"t":47.4,"v":0.41},{"t":47.8,"v":0.57},{"t":48.2,"v":0.64},{"t":48.5,"v":0.59},{"t":48.9,"v":0.54},{"t":49.2,"v":0.57},{"t":49.6,"v":0.61},{"t":50,"v":0.64},{"t":50.3,"v":0.59},{"t":50.7,"v":0.68},{"t":51,"v":0.81},{"t":51.4,"v":0.74},{"t":51.7,"v":0.63},{"t":52.1,"v":0.59},{"t":52.5,"v":0.68},{"t":52.8,"v":0.77},{"t":53.2,"v":0.86},{"t":53.5,"v":0.81},{"t":53.9,"v":0.72},{"t":54.3,"v":0.68},{"t":54.6,"v":0.82},{"t":55,"v":0.74},{"t":55.3,"v":0.63},{"t":55.7,"v":0.72},{"t":56,"v":0.81},{"t":56.4,"v":0.68},{"t":56.8,"v":0.61},{"t":57.1,"v":0.70},{"t":57.5,"v":0.77},{"t":57.8,"v":0.74},{"t":58.2,"v":0.64},{"t":58.5,"v":0.76},{"t":58.9,"v":0.64},{"t":59.3,"v":0.70},{"t":59.6,"v":0.61},{"t":60,"v":0.81},{"t":60.3,"v":0.94},{"t":60.7,"v":1.0},{"t":61.1,"v":0.86},{"t":61.4,"v":0.79},{"t":61.7,"v":0.83}],
    "tr34": [{"t":0,"v":0.22},{"t":61.8,"v":0.77}],
    "f34": [{"t":0,"v":0.45},{"t":0.2,"v":0.59},{"t":0.5,"v":0.66},{"t":0.9,"v":0.59},{"t":1.3,"v":0.66},{"t":1.6,"v":0.61},{"t":2,"v":0.68},{"t":2.3,"v":0.64},{"t":2.7,"v":0.70},{"t":3,"v":0.66},{"t":3.4,"v":0.57},{"t":3.8,"v":0.48},{"t":4.1,"v":0.37},{"t":4.5,"v":0.48},{"t":4.8,"v":0.63},{"t":5.2,"v":0.72},{"t":5.6,"v":0.77},{"t":5.9,"v":0.81},{"t":6.3,"v":0.59},{"t":6.6,"v":0.66},{"t":7,"v":0.52},{"t":7.3,"v":0.66},{"t":7.7,"v":0.77},{"t":8.1,"v":0.81},{"t":8.4,"v":0.59},{"t":8.8,"v":0.55},{"t":9.1,"v":0.63},{"t":9.5,"v":0.66},{"t":9.8,"v":0.59},{"t":10.2,"v":0.64},{"t":10.6,"v":0.66},{"t":10.9,"v":0.59},{"t":11.3,"v":0.52},{"t":11.6,"v":0.55},{"t":12,"v":0.61},{"t":12.4,"v":0.66},{"t":12.7,"v":0.70},{"t":13.1,"v":0.74},{"t":13.4,"v":0.77},{"t":13.8,"v":0.81},{"t":14.1,"v":0.75},{"t":14.5,"v":0.68},{"t":14.9,"v":0.61},{"t":15.2,"v":0.54},{"t":15.6,"v":0.55},{"t":15.9,"v":0.46},{"t":16.3,"v":0.48},{"t":16.7,"v":0.41},{"t":17,"v":0.48},{"t":17.4,"v":0.34},{"t":17.7,"v":0.43},{"t":18.1,"v":0.50},{"t":18.4,"v":0.54},{"t":18.8,"v":0.45},{"t":19.2,"v":0.48},{"t":19.5,"v":0.37},{"t":19.9,"v":0.25},{"t":20.2,"v":0.41},{"t":20.6,"v":0.46},{"t":21,"v":0.55},{"t":21.3,"v":0.59},{"t":21.7,"v":0.52},{"t":22,"v":0.59},{"t":22.4,"v":0.45},{"t":22.7,"v":0.48},{"t":23.1,"v":0.41},{"t":23.5,"v":0.48},{"t":23.8,"v":0.37},{"t":24.2,"v":0.34},{"t":24.5,"v":0.48},{"t":24.9,"v":0.59},{"t":25.2,"v":0.72},{"t":25.6,"v":0.48},{"t":26,"v":0.45},{"t":26.3,"v":0.37},{"t":26.7,"v":0.45},{"t":27,"v":0.48},{"t":27.4,"v":0.41},{"t":27.8,"v":0.46},{"t":28.1,"v":0.39},{"t":28.5,"v":0.45},{"t":28.8,"v":0.34},{"t":29.2,"v":0.35},{"t":29.5,"v":0.34},{"t":30.1,"v":0.35},{"t":30.6,"v":0.41},{"t":31,"v":0.48},{"t":31.3,"v":0.41},{"t":31.7,"v":0.50},{"t":32,"v":0.41},{"t":32.4,"v":0.30},{"t":32.8,"v":0.41},{"t":33.1,"v":0.37},{"t":33.5,"v":0.45},{"t":33.8,"v":0.48},{"t":34.2,"v":0.34},{"t":34.6,"v":0.54},{"t":34.9,"v":0.41},{"t":35.3,"v":0.30},{"t":35.6,"v":0.37},{"t":36,"v":0.30},{"t":36.3,"v":0.37},{"t":36.7,"v":0.32},{"t":37.1,"v":0.34},{"t":37.4,"v":0.28},{"t":37.8,"v":0.30},{"t":38.1,"v":0.25},{"t":38.5,"v":0.32},{"t":38.9,"v":0.28},{"t":39.2,"v":0.25},{"t":39.6,"v":0.30},{"t":39.9,"v":0.34},{"t":40.3,"v":0.26},{"t":40.6,"v":0.30},{"t":41,"v":0.25},{"t":41.4,"v":0.30},{"t":41.7,"v":0.23},{"t":42.1,"v":0.30},{"t":42.4,"v":0.34},{"t":42.8,"v":0.26},{"t":43.2,"v":0.25},{"t":43.5,"v":0.30},{"t":43.9,"v":0.25},{"t":44.2,"v":0.41},{"t":44.6,"v":0.45},{"t":44.9,"v":0.48},{"t":45.3,"v":0.37},{"t":45.7,"v":0.25},{"t":46,"v":0.28},{"t":46.4,"v":0.23},{"t":46.7,"v":0.25},{"t":47.1,"v":0.19},{"t":47.4,"v":0.23},{"t":47.8,"v":0.14},{"t":48.2,"v":0.19},{"t":48.5,"v":0.26},{"t":48.9,"v":0.21},{"t":49.2,"v":0.28},{"t":49.6,"v":0.23},{"t":50,"v":0.30},{"t":50.3,"v":0.21},{"t":50.7,"v":0.25},{"t":51,"v":0.19},{"t":51.4,"v":0.23},{"t":51.7,"v":0.17},{"t":52.1,"v":0.12},{"t":52.5,"v":0.15},{"t":52.8,"v":0.12},{"t":53.2,"v":0.06},{"t":53.5,"v":0.12},{"t":53.9,"v":0.15},{"t":54.3,"v":0.08},{"t":54.6,"v":0.0},{"t":55,"v":0.12},{"t":55.3,"v":0.15},{"t":55.7,"v":0.10},{"t":56,"v":0.05},{"t":56.4,"v":0.12},{"t":56.8,"v":0.14},{"t":57.1,"v":0.08},{"t":57.5,"v":0.05},{"t":57.8,"v":0.08},{"t":58.2,"v":0.03},{"t":58.5,"v":0.06},{"t":58.9,"v":0.03},{"t":59.3,"v":0.05},{"t":59.6,"v":0.03},{"t":60,"v":0.12},{"t":60.3,"v":0.06},{"t":60.7,"v":0.03},{"t":61.1,"v":0.06},{"t":61.4,"v":0.0}],
    "tf34": [{"t":0,"v":0.68},{"t":61.8,"v":0.12}]
  },
  "columns": 4,
  "spacing": {"row": 67, "column": 21},
  "bounds": "flush",
  "concat": [
    {
      "width": 230, "height": 366, "title": "Sujeito I",
      "encoding": {"x": {"field": "t", "type": "quantitative", "scale": {"domain": [0, 67.5], "nice": false, "zero": false}, "axis": {"values": [0, 20, 40, 60]}, "title": null}},
      "layer": [
        {"data": {"name": "f11"}, "mark": {"type": "line", "color": "#ff0000"}, "encoding": {"y": {"field": "v", "type": "quantitative", "scale": {"domain": [0, 2.045], "nice": false}, "axis": {"values": [0.47, 1, 1.62], "labelExpr": "datum.value == 1 ? 'DIA I' : datum.value < 1 ? 'FPMd [0 - 1]' : 'RMS [0 - 1]'", "grid": true, "gridColor": {"condition": {"test": "datum.value == 1", "value": "#000000"}, "value": "transparent"}, "gridWidth": 2, "tickColor": {"condition": {"test": "datum.value == 1", "value": "#000000"}, "value": "transparent"}, "tickSize": 14, "tickWidth": 2, "labelFontSize": {"condition": {"test": "datum.value == 1", "value": 32}, "value": 22}, "labelPadding": {"condition": {"test": "datum.value == 1", "value": 3}, "value": -5}}}}},
        {"data": {"name": "tf11"}, "mark": {"type": "line", "color": "#000000", "strokeDash": [4, 3], "strokeWidth": 1.5}, "encoding": {"y": {"field": "v", "type": "quantitative", "scale": {"domain": [0, 2.045], "nice": false}, "axis": null}}},
        {"data": {"name": "r11"}, "mark": {"type": "line", "color": "#0000ff"}, "encoding": {"y": {"field": "v", "type": "quantitative", "scale": {"domain": [-0.957, 1], "nice": false}, "axis": null}}},
        {"data": {"name": "tr11"}, "mark": {"type": "line", "color": "#000000", "strokeDash": [4, 3], "strokeWidth": 1.5}, "encoding": {"y": {"field": "v", "type": "quantitative", "scale": {"domain": [-0.957, 1], "nice": false}, "axis": null}}}
      ],
      "resolve": {"scale": {"y": "independent"}}
    },
    {
      "width": 230, "height": 366, "title": "Sujeito II",
      "encoding": {"x": {"field": "t", "type": "quantitative", "scale": {"domain": [0, 64.5], "nice": false, "zero": false}, "axis": {"values": [0, 20, 40, 60]}, "title": null}},
      "layer": [
        {"data": {"name": "f12"}, "mark": {"type": "line", "color": "#ff0000"}, "encoding": {"y": {"field": "v", "type": "quantitative", "scale": {"domain": [0, 2.045], "nice": false}, "axis": {"values": [1], "labels": false, "ticks": false, "grid": true, "gridColor": "#000000", "gridWidth": 2}}}},
        {"data": {"name": "tf12"}, "mark": {"type": "line", "color": "#000000", "strokeDash": [4, 3], "strokeWidth": 1.5}, "encoding": {"y": {"field": "v", "type": "quantitative", "scale": {"domain": [0, 2.045], "nice": false}, "axis": null}}},
        {"data": {"name": "r12"}, "mark": {"type": "line", "color": "#0000ff"}, "encoding": {"y": {"field": "v", "type": "quantitative", "scale": {"domain": [-0.957, 1], "nice": false}, "axis": null}}},
        {"data": {"name": "tr12"}, "mark": {"type": "line", "color": "#000000", "strokeDash": [4, 3], "strokeWidth": 1.5}, "encoding": {"y": {"field": "v", "type": "quantitative", "scale": {"domain": [-0.957, 1], "nice": false}, "axis": null}}}
      ],
      "resolve": {"scale": {"y": "independent"}}
    },
    {
      "width": 230, "height": 366, "title": "Sujeito III",
      "encoding": {"x": {"field": "t", "type": "quantitative", "scale": {"domain": [0, 59.4], "nice": false, "zero": false}, "axis": {"values": [0, 20, 40]}, "title": null}},
      "layer": [
        {"data": {"name": "f13"}, "mark": {"type": "line", "color": "#ff0000"}, "encoding": {"y": {"field": "v", "type": "quantitative", "scale": {"domain": [0, 2.045], "nice": false}, "axis": {"values": [1], "labels": false, "ticks": false, "grid": true, "gridColor": "#000000", "gridWidth": 2}}}},
        {"data": {"name": "tf13"}, "mark": {"type": "line", "color": "#000000", "strokeDash": [4, 3], "strokeWidth": 1.5}, "encoding": {"y": {"field": "v", "type": "quantitative", "scale": {"domain": [0, 2.045], "nice": false}, "axis": null}}},
        {"data": {"name": "r13"}, "mark": {"type": "line", "color": "#0000ff"}, "encoding": {"y": {"field": "v", "type": "quantitative", "scale": {"domain": [-0.957, 1], "nice": false}, "axis": null}}},
        {"data": {"name": "tr13"}, "mark": {"type": "line", "color": "#000000", "strokeDash": [4, 3], "strokeWidth": 1.5}, "encoding": {"y": {"field": "v", "type": "quantitative", "scale": {"domain": [-0.957, 1], "nice": false}, "axis": null}}}
      ],
      "resolve": {"scale": {"y": "independent"}}
    },
    {
      "width": 230, "height": 366, "title": "Sujeito IV",
      "encoding": {"x": {"field": "t", "type": "quantitative", "scale": {"domain": [0, 56], "nice": false, "zero": false}, "axis": {"values": [0, 20, 40]}, "title": null}},
      "layer": [
        {"data": {"name": "f14"}, "mark": {"type": "line", "color": "#ff0000"}, "encoding": {"y": {"field": "v", "type": "quantitative", "scale": {"domain": [0, 2.045], "nice": false}, "axis": {"values": [1], "labels": false, "ticks": false, "grid": true, "gridColor": "#000000", "gridWidth": 2}}}},
        {"data": {"name": "tf14"}, "mark": {"type": "line", "color": "#000000", "strokeDash": [4, 3], "strokeWidth": 1.5}, "encoding": {"y": {"field": "v", "type": "quantitative", "scale": {"domain": [0, 2.045], "nice": false}, "axis": null}}},
        {"data": {"name": "r14"}, "mark": {"type": "line", "color": "#0000ff"}, "encoding": {"y": {"field": "v", "type": "quantitative", "scale": {"domain": [-0.957, 1], "nice": false}, "axis": null}}},
        {"data": {"name": "tr14"}, "mark": {"type": "line", "color": "#000000", "strokeDash": [4, 3], "strokeWidth": 1.5}, "encoding": {"y": {"field": "v", "type": "quantitative", "scale": {"domain": [-0.957, 1], "nice": false}, "axis": null}}}
      ],
      "resolve": {"scale": {"y": "independent"}}
    },
    {
      "width": 230, "height": 366,
      "encoding": {"x": {"field": "t", "type": "quantitative", "scale": {"domain": [0, 99], "nice": false, "zero": false}, "axis": {"values": [0, 20, 40, 60, 80]}, "title": null}},
      "layer": [
        {"data": {"name": "f21"}, "mark": {"type": "line", "color": "#ff0000"}, "encoding": {"y": {"field": "v", "type": "quantitative", "scale": {"domain": [0, 2.045], "nice": false}, "axis": {"values": [0.47, 1, 1.62], "labelExpr": "datum.value == 1 ? 'DIA II' : datum.value < 1 ? 'FPMd [0 - 1]' : 'RMS [0 - 1]'", "grid": true, "gridColor": {"condition": {"test": "datum.value == 1", "value": "#000000"}, "value": "transparent"}, "gridWidth": 2, "tickColor": {"condition": {"test": "datum.value == 1", "value": "#000000"}, "value": "transparent"}, "tickSize": 14, "tickWidth": 2, "labelFontSize": {"condition": {"test": "datum.value == 1", "value": 32}, "value": 22}, "labelPadding": {"condition": {"test": "datum.value == 1", "value": 3}, "value": -5}}}}},
        {"data": {"name": "tf21"}, "mark": {"type": "line", "color": "#000000", "strokeDash": [4, 3], "strokeWidth": 1.5}, "encoding": {"y": {"field": "v", "type": "quantitative", "scale": {"domain": [0, 2.045], "nice": false}, "axis": null}}},
        {"data": {"name": "r21"}, "mark": {"type": "line", "color": "#0000ff"}, "encoding": {"y": {"field": "v", "type": "quantitative", "scale": {"domain": [-0.957, 1], "nice": false}, "axis": null}}},
        {"data": {"name": "tr21"}, "mark": {"type": "line", "color": "#000000", "strokeDash": [4, 3], "strokeWidth": 1.5}, "encoding": {"y": {"field": "v", "type": "quantitative", "scale": {"domain": [-0.957, 1], "nice": false}, "axis": null}}}
      ],
      "resolve": {"scale": {"y": "independent"}}
    },
    {
      "width": 230, "height": 366,
      "encoding": {"x": {"field": "t", "type": "quantitative", "scale": {"domain": [0, 86.6], "nice": false, "zero": false}, "axis": {"values": [0, 20, 40, 60, 80]}, "title": null}},
      "layer": [
        {"data": {"name": "f22"}, "mark": {"type": "line", "color": "#ff0000"}, "encoding": {"y": {"field": "v", "type": "quantitative", "scale": {"domain": [0, 2.045], "nice": false}, "axis": {"values": [1], "labels": false, "ticks": false, "grid": true, "gridColor": "#000000", "gridWidth": 2}}}},
        {"data": {"name": "tf22"}, "mark": {"type": "line", "color": "#000000", "strokeDash": [4, 3], "strokeWidth": 1.5}, "encoding": {"y": {"field": "v", "type": "quantitative", "scale": {"domain": [0, 2.045], "nice": false}, "axis": null}}},
        {"data": {"name": "r22"}, "mark": {"type": "line", "color": "#0000ff"}, "encoding": {"y": {"field": "v", "type": "quantitative", "scale": {"domain": [-0.957, 1], "nice": false}, "axis": null}}},
        {"data": {"name": "tr22"}, "mark": {"type": "line", "color": "#000000", "strokeDash": [4, 3], "strokeWidth": 1.5}, "encoding": {"y": {"field": "v", "type": "quantitative", "scale": {"domain": [-0.957, 1], "nice": false}, "axis": null}}}
      ],
      "resolve": {"scale": {"y": "independent"}}
    },
    {
      "width": 230, "height": 366,
      "encoding": {"x": {"field": "t", "type": "quantitative", "scale": {"domain": [0, 91.4], "nice": false, "zero": false}, "axis": {"values": [0, 20, 40, 60, 80]}, "title": null}},
      "layer": [
        {"data": {"name": "f23"}, "mark": {"type": "line", "color": "#ff0000"}, "encoding": {"y": {"field": "v", "type": "quantitative", "scale": {"domain": [0, 2.045], "nice": false}, "axis": {"values": [1], "labels": false, "ticks": false, "grid": true, "gridColor": "#000000", "gridWidth": 2}}}},
        {"data": {"name": "tf23"}, "mark": {"type": "line", "color": "#000000", "strokeDash": [4, 3], "strokeWidth": 1.5}, "encoding": {"y": {"field": "v", "type": "quantitative", "scale": {"domain": [0, 2.045], "nice": false}, "axis": null}}},
        {"data": {"name": "r23"}, "mark": {"type": "line", "color": "#0000ff"}, "encoding": {"y": {"field": "v", "type": "quantitative", "scale": {"domain": [-0.957, 1], "nice": false}, "axis": null}}},
        {"data": {"name": "tr23"}, "mark": {"type": "line", "color": "#000000", "strokeDash": [4, 3], "strokeWidth": 1.5}, "encoding": {"y": {"field": "v", "type": "quantitative", "scale": {"domain": [-0.957, 1], "nice": false}, "axis": null}}}
      ],
      "resolve": {"scale": {"y": "independent"}}
    },
    {
      "width": 230, "height": 366,
      "encoding": {"x": {"field": "t", "type": "quantitative", "scale": {"domain": [0, 72.6], "nice": false, "zero": false}, "axis": {"values": [0, 20, 40, 60]}, "title": null}},
      "layer": [
        {"data": {"name": "f24"}, "mark": {"type": "line", "color": "#ff0000"}, "encoding": {"y": {"field": "v", "type": "quantitative", "scale": {"domain": [0, 2.045], "nice": false}, "axis": {"values": [1], "labels": false, "ticks": false, "grid": true, "gridColor": "#000000", "gridWidth": 2}}}},
        {"data": {"name": "tf24"}, "mark": {"type": "line", "color": "#000000", "strokeDash": [4, 3], "strokeWidth": 1.5}, "encoding": {"y": {"field": "v", "type": "quantitative", "scale": {"domain": [0, 2.045], "nice": false}, "axis": null}}},
        {"data": {"name": "r24"}, "mark": {"type": "line", "color": "#0000ff"}, "encoding": {"y": {"field": "v", "type": "quantitative", "scale": {"domain": [-0.957, 1], "nice": false}, "axis": null}}},
        {"data": {"name": "tr24"}, "mark": {"type": "line", "color": "#000000", "strokeDash": [4, 3], "strokeWidth": 1.5}, "encoding": {"y": {"field": "v", "type": "quantitative", "scale": {"domain": [-0.957, 1], "nice": false}, "axis": null}}}
      ],
      "resolve": {"scale": {"y": "independent"}}
    },
    {
      "width": 230, "height": 366,
      "encoding": {"x": {"field": "t", "type": "quantitative", "scale": {"domain": [0, 78], "nice": false, "zero": false}, "axis": {"values": [0, 20, 40, 60]}, "title": "Tempo [s]"}},
      "layer": [
        {"data": {"name": "f31"}, "mark": {"type": "line", "color": "#ff0000"}, "encoding": {"y": {"field": "v", "type": "quantitative", "scale": {"domain": [0, 2.045], "nice": false}, "axis": {"values": [0.47, 1, 1.62], "labelExpr": "datum.value == 1 ? 'DIA III' : datum.value < 1 ? 'FPMd [0 - 1]' : 'RMS [0 - 1]'", "grid": true, "gridColor": {"condition": {"test": "datum.value == 1", "value": "#000000"}, "value": "transparent"}, "gridWidth": 2, "tickColor": {"condition": {"test": "datum.value == 1", "value": "#000000"}, "value": "transparent"}, "tickSize": 14, "tickWidth": 2, "labelFontSize": {"condition": {"test": "datum.value == 1", "value": 32}, "value": 22}, "labelPadding": {"condition": {"test": "datum.value == 1", "value": 3}, "value": -5}}}}},
        {"data": {"name": "tf31"}, "mark": {"type": "line", "color": "#000000", "strokeDash": [4, 3], "strokeWidth": 1.5}, "encoding": {"y": {"field": "v", "type": "quantitative", "scale": {"domain": [0, 2.045], "nice": false}, "axis": null}}},
        {"data": {"name": "r31"}, "mark": {"type": "line", "color": "#0000ff"}, "encoding": {"y": {"field": "v", "type": "quantitative", "scale": {"domain": [-0.957, 1], "nice": false}, "axis": null}}},
        {"data": {"name": "tr31"}, "mark": {"type": "line", "color": "#000000", "strokeDash": [4, 3], "strokeWidth": 1.5}, "encoding": {"y": {"field": "v", "type": "quantitative", "scale": {"domain": [-0.957, 1], "nice": false}, "axis": null}}}
      ],
      "resolve": {"scale": {"y": "independent"}}
    },
    {
      "width": 230, "height": 366,
      "encoding": {"x": {"field": "t", "type": "quantitative", "scale": {"domain": [0, 79], "nice": false, "zero": false}, "axis": {"values": [0, 20, 40, 60]}, "title": "Tempo [s]"}},
      "layer": [
        {"data": {"name": "f32"}, "mark": {"type": "line", "color": "#ff0000"}, "encoding": {"y": {"field": "v", "type": "quantitative", "scale": {"domain": [0, 2.045], "nice": false}, "axis": {"values": [1], "labels": false, "ticks": false, "grid": true, "gridColor": "#000000", "gridWidth": 2}}}},
        {"data": {"name": "tf32"}, "mark": {"type": "line", "color": "#000000", "strokeDash": [4, 3], "strokeWidth": 1.5}, "encoding": {"y": {"field": "v", "type": "quantitative", "scale": {"domain": [0, 2.045], "nice": false}, "axis": null}}},
        {"data": {"name": "r32"}, "mark": {"type": "line", "color": "#0000ff"}, "encoding": {"y": {"field": "v", "type": "quantitative", "scale": {"domain": [-0.957, 1], "nice": false}, "axis": null}}},
        {"data": {"name": "tr32"}, "mark": {"type": "line", "color": "#000000", "strokeDash": [4, 3], "strokeWidth": 1.5}, "encoding": {"y": {"field": "v", "type": "quantitative", "scale": {"domain": [-0.957, 1], "nice": false}, "axis": null}}}
      ],
      "resolve": {"scale": {"y": "independent"}}
    },
    {
      "width": 230, "height": 366,
      "encoding": {"x": {"field": "t", "type": "quantitative", "scale": {"domain": [0, 50.7], "nice": false, "zero": false}, "axis": {"values": [0, 20, 40]}, "title": "Tempo [s]"}},
      "layer": [
        {"data": {"name": "f33"}, "mark": {"type": "line", "color": "#ff0000"}, "encoding": {"y": {"field": "v", "type": "quantitative", "scale": {"domain": [0, 2.045], "nice": false}, "axis": {"values": [1], "labels": false, "ticks": false, "grid": true, "gridColor": "#000000", "gridWidth": 2}}}},
        {"data": {"name": "tf33"}, "mark": {"type": "line", "color": "#000000", "strokeDash": [4, 3], "strokeWidth": 1.5}, "encoding": {"y": {"field": "v", "type": "quantitative", "scale": {"domain": [0, 2.045], "nice": false}, "axis": null}}},
        {"data": {"name": "r33"}, "mark": {"type": "line", "color": "#0000ff"}, "encoding": {"y": {"field": "v", "type": "quantitative", "scale": {"domain": [-0.957, 1], "nice": false}, "axis": null}}},
        {"data": {"name": "tr33"}, "mark": {"type": "line", "color": "#000000", "strokeDash": [4, 3], "strokeWidth": 1.5}, "encoding": {"y": {"field": "v", "type": "quantitative", "scale": {"domain": [-0.957, 1], "nice": false}, "axis": null}}}
      ],
      "resolve": {"scale": {"y": "independent"}}
    },
    {
      "width": 230, "height": 366,
      "encoding": {"x": {"field": "t", "type": "quantitative", "scale": {"domain": [0, 61.8], "nice": false, "zero": false}, "axis": {"values": [0, 20, 40, 60]}, "title": "Tempo [s]"}},
      "layer": [
        {"data": {"name": "f34"}, "mark": {"type": "line", "color": "#ff0000"}, "encoding": {"y": {"field": "v", "type": "quantitative", "scale": {"domain": [0, 2.045], "nice": false}, "axis": {"values": [1], "labels": false, "ticks": false, "grid": true, "gridColor": "#000000", "gridWidth": 2}}}},
        {"data": {"name": "tf34"}, "mark": {"type": "line", "color": "#000000", "strokeDash": [4, 3], "strokeWidth": 1.5}, "encoding": {"y": {"field": "v", "type": "quantitative", "scale": {"domain": [0, 2.045], "nice": false}, "axis": null}}},
        {"data": {"name": "r34"}, "mark": {"type": "line", "color": "#0000ff"}, "encoding": {"y": {"field": "v", "type": "quantitative", "scale": {"domain": [-0.957, 1], "nice": false}, "axis": null}}},
        {"data": {"name": "tr34"}, "mark": {"type": "line", "color": "#000000", "strokeDash": [4, 3], "strokeWidth": 1.5}, "encoding": {"y": {"field": "v", "type": "quantitative", "scale": {"domain": [-0.957, 1], "nice": false}, "axis": null}}}
      ],
      "resolve": {"scale": {"y": "independent"}}
    }
  ]
}
